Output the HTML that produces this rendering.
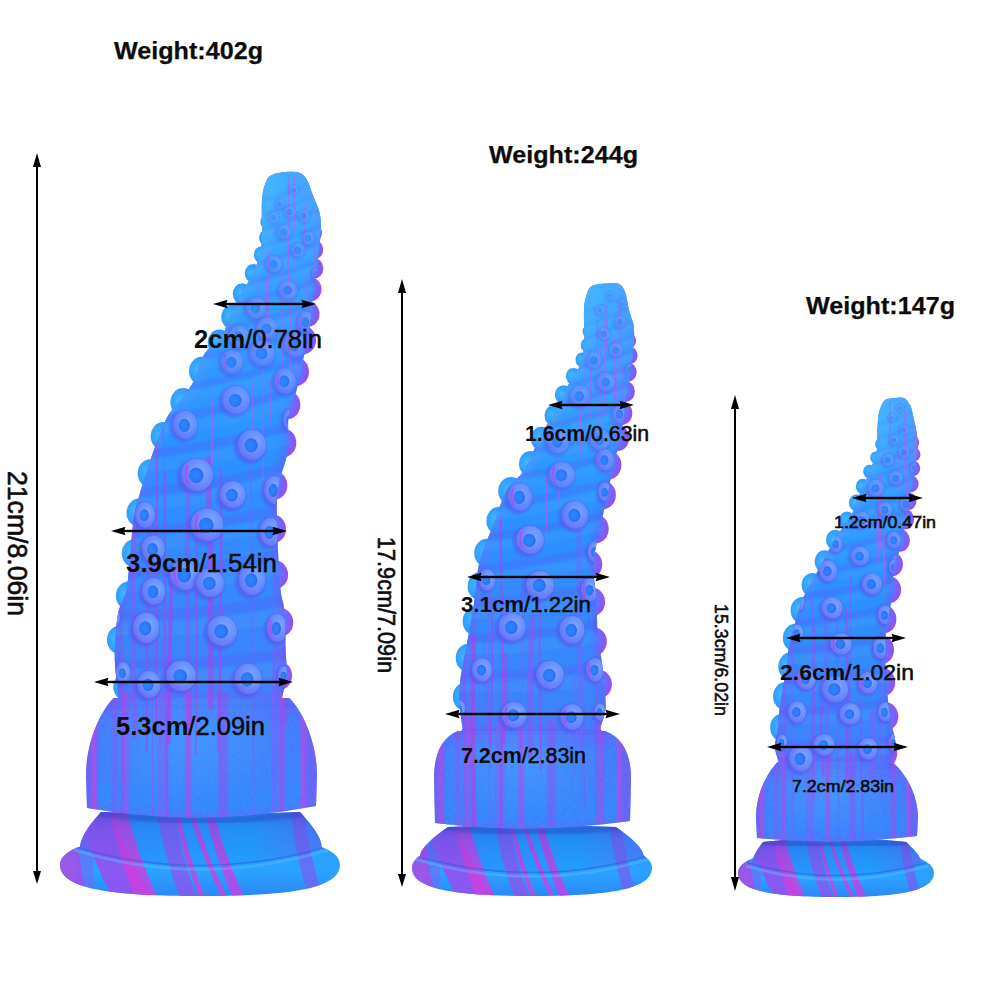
<!DOCTYPE html>
<html><head><meta charset="utf-8">
<style>
html,body{margin:0;padding:0;background:#fff;}
body{width:1000px;height:1000px;overflow:hidden;position:relative;}
svg{position:absolute;left:0;top:0;}
text{font-family:"Liberation Sans",sans-serif;fill:#0c0c0c;}
</style></head><body>
<svg width="1000" height="1000" viewBox="0 0 1000 1000">
<defs><linearGradient id="baseG" x1="0" y1="0" x2="1" y2="0">
 <stop offset="0" stop-color="#5a70f8"/><stop offset="0.25" stop-color="#2a96ff"/><stop offset="0.7" stop-color="#20a0ff"/><stop offset="1" stop-color="#4a80fa"/></linearGradient>
<linearGradient id="rimG" x1="0" y1="0" x2="0" y2="1">
 <stop offset="0" stop-color="#30a8ff"/><stop offset="0.6" stop-color="#2aa2ff"/><stop offset="1" stop-color="#2a88f8"/></linearGradient>
<radialGradient id="ringG" cx="0.6" cy="0.4" r="0.65">
 <stop offset="0" stop-color="#7aaaff"/><stop offset="0.5" stop-color="#6a90ff"/><stop offset="0.85" stop-color="#6a78f8"/><stop offset="1" stop-color="#5a62ee"/></radialGradient>
<radialGradient id="holeG" cx="0.45" cy="0.5" r="0.55">
 <stop offset="0" stop-color="#2a86ff"/><stop offset="0.6" stop-color="#2a7cf8"/><stop offset="1" stop-color="#3a5ee8"/></radialGradient>
<radialGradient id="bumpL" cx="0.4" cy="0.45" r="0.6">
 <stop offset="0" stop-color="#48b8ff"/><stop offset="0.6" stop-color="#30a0ff"/><stop offset="1" stop-color="#4a84fc"/></radialGradient>
<radialGradient id="bumpR" cx="0.4" cy="0.45" r="0.6">
 <stop offset="0" stop-color="#6a84ff"/><stop offset="0.6" stop-color="#6a6cfc"/><stop offset="1" stop-color="#9a4cf0"/></radialGradient>
<radialGradient id="domeHL" cx="0.5" cy="0.5" r="0.5">
 <stop offset="0" stop-color="#40b4ff" stop-opacity="0.45"/><stop offset="0.6" stop-color="#40b4ff" stop-opacity="0.2"/><stop offset="1" stop-color="#40b4ff" stop-opacity="0"/></radialGradient>
<filter id="blur3" x="-20%" y="-20%" width="140%" height="140%"><feGaussianBlur stdDeviation="3"/></filter>
<filter id="blur06" x="-20%" y="-20%" width="140%" height="140%"><feGaussianBlur stdDeviation="0.6"/></filter>
<filter id="blur1" x="-20%" y="-20%" width="140%" height="140%"><feGaussianBlur stdDeviation="1.2"/></filter>
<filter id="blur2" x="-20%" y="-20%" width="140%" height="140%"><feGaussianBlur stdDeviation="2"/></filter>
<filter id="speck" x="0" y="0" width="1" height="1">
 <feTurbulence type="fractalNoise" baseFrequency="0.35" numOctaves="2" seed="3" result="n"/>
 <feColorMatrix in="n" type="matrix" values="0 0 0 0 0.45  0 0 0 0 0.65  0 0 0 0 1  0 0 0 -3 1.6" result="c"/>
 <feComposite in="c" in2="SourceGraphic" operator="in"/>
</filter>
<clipPath id="clip0"><path d="M272.0,175.0 C268.7,176.7 267.7,177.8 266.0,182.0 C264.3,186.2 262.7,190.3 262.0,200.0 C261.3,209.7 262.5,230.0 261.9,240.0 C261.3,250.0 260.5,253.3 258.4,260.0 C256.3,266.7 252.9,273.3 249.4,280.0 C245.9,286.7 240.9,293.3 237.4,300.0 C233.9,306.7 231.1,313.7 228.4,320.0 C225.7,326.3 224.9,333.0 221.4,338.0 C217.9,343.0 210.9,346.0 207.4,350.0 C203.9,354.0 202.6,357.0 200.4,362.0 C198.2,367.0 197.4,374.0 194.4,380.0 C191.4,386.0 186.7,392.2 182.4,398.0 C178.1,403.8 172.4,408.3 168.4,415.0 C164.4,421.7 161.4,430.5 158.4,438.0 C155.4,445.5 153.1,452.2 150.4,460.0 C147.7,467.8 144.9,476.7 142.4,485.0 C139.9,493.3 137.1,502.5 135.4,510.0 C133.7,517.5 133.2,523.0 132.4,530.0 C131.6,537.0 131.4,542.0 130.4,552.0 C129.4,562.0 128.4,580.0 126.4,590.0 C124.4,600.0 120.2,603.7 118.4,612.0 C116.6,620.3 116.0,631.7 115.4,640.0 C114.8,648.3 114.5,653.7 114.9,662.0 C115.4,670.3 116.9,683.3 117.8,690.0 C118.8,696.7 119.8,698.0 120.5,702.0 C121.2,706.0 95.3,712.0 122.0,714.0 C148.7,716.0 254.3,716.7 281.0,714.0 C307.7,711.3 281.1,704.3 282.0,698.0 C283.0,691.7 286.0,684.0 286.6,676.0 C287.2,668.0 286.1,660.7 285.7,650.0 C285.4,639.3 285.5,622.0 284.6,612.0 C283.7,602.0 281.8,602.0 280.6,590.0 C279.4,578.0 278.1,556.7 277.6,540.0 C277.1,523.3 275.9,504.7 277.6,490.0 C279.3,475.3 285.8,464.5 287.6,452.0 C289.4,439.5 287.1,425.3 288.6,415.0 C290.1,404.7 294.3,398.8 296.6,390.0 C298.9,381.2 300.8,370.3 302.6,362.0 C304.4,353.7 306.1,348.7 307.6,340.0 C309.1,331.3 310.6,319.7 311.6,310.0 C312.6,300.3 312.6,290.3 313.6,282.0 C314.6,273.7 316.4,270.3 317.6,260.0 C318.8,249.7 321.8,231.2 320.8,220.0 C319.9,208.8 314.3,199.7 312.0,193.0 C309.7,186.3 309.0,183.3 307.0,180.0 C305.0,176.7 303.5,174.3 300.0,173.0 C296.5,171.7 290.7,171.7 286.0,172.0 C281.3,172.3 275.3,173.3 272.0,175.0 Z"/><path d="M113.6,698.0 C98.1,713.9 86.0,745.7 86.0,775.4 L87.0,808.0 Q201.5,828.0 316.0,806.0 L317.0,775.4 C317.0,745.7 304.9,713.9 289.4,698.0 Z"/></clipPath><clipPath id="dclip0"><path d="M113.6,698.0 C98.1,713.9 86.0,745.7 86.0,775.4 L87.0,808.0 Q201.5,828.0 316.0,806.0 L317.0,775.4 C317.0,745.7 304.9,713.9 289.4,698.0 Z"/></clipPath><linearGradient id="ug0" gradientUnits="userSpaceOnUse" x1="0" y1="171.0" x2="0" y2="457.7">
 <stop offset="0" stop-color="#48b8ff" stop-opacity="0.75"/><stop offset="0.4" stop-color="#40b0ff" stop-opacity="0.45"/><stop offset="1" stop-color="#40b0ff" stop-opacity="0"/></linearGradient><linearGradient id="fsh0" gradientUnits="userSpaceOnUse" x1="0" y1="808.0" x2="0" y2="867.0">
 <stop offset="0" stop-color="#2a40c0" stop-opacity="0.5"/><stop offset="0.35" stop-color="#2a50d0" stop-opacity="0.2"/><stop offset="1" stop-color="#2a50d0" stop-opacity="0"/></linearGradient><linearGradient id="lcg0" gradientUnits="userSpaceOnUse" x1="0" y1="171.0" x2="0" y2="702.0">
 <stop offset="0" stop-color="#50c4ff" stop-opacity="0.5"/><stop offset="0.5" stop-color="#40b0ff" stop-opacity="0.35"/><stop offset="0.8" stop-color="#7a5af4" stop-opacity="0.2"/><stop offset="1" stop-color="#7a5af4" stop-opacity="0.35"/></linearGradient><linearGradient id="lg0" gradientUnits="userSpaceOnUse" x1="0" y1="425.8" x2="0" y2="808.0">
 <stop offset="0" stop-color="#7a50f0" stop-opacity="0"/><stop offset="0.85" stop-color="#8050f0" stop-opacity="0.28"/><stop offset="1" stop-color="#8050f0" stop-opacity="0.1"/></linearGradient><clipPath id="bclip0"><path d="M101.0,812.0 Q200.0,816.0 300.0,812.0 C306.6,819.2 322.0,835.4 322.0,848.0 Q200.0,886.0 80.0,848.0 C80.0,835.4 94.7,819.2 101.0,812.0 Z"/><path d="M60.0,865.0 C60.0,889.8 116.0,896.0 200.0,896.0 C284.0,896.0 340.0,889.8 340.0,865.0 C340.0,843.3 284.0,834.0 200.0,834.0 C116.0,834.0 60.0,843.3 60.0,865.0 Z"/></clipPath><clipPath id="clip1"><path d="M592.0,286.0 C588.8,287.8 588.3,290.0 587.0,294.0 C585.7,298.0 584.4,302.3 584.0,310.0 C583.6,317.7 584.6,332.5 584.4,340.0 C584.2,347.5 584.1,350.0 582.9,355.0 C581.8,360.0 580.6,364.2 577.6,370.0 C574.7,375.8 568.9,383.3 565.4,390.0 C561.9,396.7 559.6,404.0 556.4,410.0 C553.2,416.0 549.4,421.0 546.4,426.0 C543.4,431.0 542.1,432.7 538.4,440.0 C534.7,447.3 529.4,462.2 524.4,470.0 C519.4,477.8 512.4,481.2 508.4,487.0 C504.4,492.8 502.9,498.7 500.4,505.0 C497.9,511.3 496.1,518.0 493.4,525.0 C490.7,532.0 486.9,540.0 484.4,547.0 C481.9,554.0 480.1,558.2 478.4,567.0 C476.7,575.8 475.7,590.3 474.4,600.0 C473.1,609.7 472.2,614.7 470.4,625.0 C468.6,635.3 465.1,652.8 463.4,662.0 C461.7,671.2 461.1,673.7 460.4,680.0 C459.7,686.3 458.9,692.0 459.2,700.0 C459.6,708.0 461.7,721.3 462.5,728.0 C463.3,734.7 441.3,738.0 464.0,740.0 C486.7,742.0 576.3,742.0 599.0,740.0 C621.7,738.0 599.4,733.5 600.5,728.0 C601.6,722.5 605.2,715.0 605.7,707.0 C606.2,699.0 604.3,687.8 603.6,680.0 C602.9,672.2 602.6,667.2 601.6,660.0 C600.6,652.8 598.4,647.0 597.6,637.0 C596.8,627.0 597.3,612.5 596.6,600.0 C595.9,587.5 592.4,576.7 593.6,562.0 C594.8,547.3 601.1,524.0 603.6,512.0 C606.1,500.0 606.9,498.3 608.6,490.0 C610.3,481.7 611.6,470.3 613.6,462.0 C615.6,453.7 618.6,450.3 620.6,440.0 C622.6,429.7 623.7,413.3 625.6,400.0 C627.5,386.7 630.6,371.7 632.0,360.0 C633.4,348.3 634.5,338.3 634.0,330.0 C633.5,321.7 630.5,316.3 629.0,310.0 C627.5,303.7 626.7,296.3 625.0,292.0 C623.3,287.7 622.2,285.4 619.0,284.0 C615.8,282.6 610.5,283.2 606.0,283.5 C601.5,283.8 595.2,284.2 592.0,286.0 Z"/><path d="M458.0,731.0 C438.8,738.6 434.0,759.5 434.0,778.5 L435.0,823.0 Q532.5,835.0 630.0,821.0 L631.0,778.5 C631.0,759.5 625.8,738.6 605.0,731.0 Z"/></clipPath><clipPath id="dclip1"><path d="M458.0,731.0 C438.8,738.6 434.0,759.5 434.0,778.5 L435.0,823.0 Q532.5,835.0 630.0,821.0 L631.0,778.5 C631.0,759.5 625.8,738.6 605.0,731.0 Z"/></clipPath><linearGradient id="ug1" gradientUnits="userSpaceOnUse" x1="0" y1="282.5" x2="0" y2="525.7">
 <stop offset="0" stop-color="#48b8ff" stop-opacity="0.75"/><stop offset="0.4" stop-color="#40b0ff" stop-opacity="0.45"/><stop offset="1" stop-color="#40b0ff" stop-opacity="0"/></linearGradient><linearGradient id="fsh1" gradientUnits="userSpaceOnUse" x1="0" y1="823.0" x2="0" y2="874.0">
 <stop offset="0" stop-color="#2a40c0" stop-opacity="0.5"/><stop offset="0.35" stop-color="#2a50d0" stop-opacity="0.2"/><stop offset="1" stop-color="#2a50d0" stop-opacity="0"/></linearGradient><linearGradient id="lcg1" gradientUnits="userSpaceOnUse" x1="0" y1="282.5" x2="0" y2="728.0">
 <stop offset="0" stop-color="#50c4ff" stop-opacity="0.5"/><stop offset="0.5" stop-color="#40b0ff" stop-opacity="0.35"/><stop offset="0.8" stop-color="#7a5af4" stop-opacity="0.2"/><stop offset="1" stop-color="#7a5af4" stop-opacity="0.35"/></linearGradient><linearGradient id="lg1" gradientUnits="userSpaceOnUse" x1="0" y1="498.7" x2="0" y2="823.0">
 <stop offset="0" stop-color="#7a50f0" stop-opacity="0"/><stop offset="0.85" stop-color="#8050f0" stop-opacity="0.28"/><stop offset="1" stop-color="#8050f0" stop-opacity="0.1"/></linearGradient><clipPath id="bclip1"><path d="M448.0,827.0 Q532.0,823.0 616.0,827.0 C624.4,833.0 644.0,846.5 644.0,857.0 Q532.0,891.0 420.0,857.0 C420.0,846.5 439.6,833.0 448.0,827.0 Z"/><path d="M412.0,868.0 C412.0,890.4 460.0,896.0 532.0,896.0 C604.0,896.0 652.0,890.4 652.0,868.0 C652.0,848.4 604.0,840.0 532.0,840.0 C460.0,840.0 412.0,848.4 412.0,868.0 Z"/></clipPath><clipPath id="clip2"><path d="M885.0,400.0 C882.5,401.8 881.2,405.7 880.0,409.0 C878.8,412.3 878.4,414.8 878.0,420.0 C877.6,425.2 877.5,435.0 877.4,440.0 C877.2,445.0 878.1,445.0 876.9,450.0 C875.7,455.0 873.0,463.3 870.4,470.0 C867.8,476.7 864.0,483.3 861.3,490.0 C858.5,496.7 856.7,504.2 853.9,510.0 C851.1,515.8 847.7,520.0 844.4,525.0 C841.1,530.0 837.4,535.0 834.4,540.0 C831.4,545.0 829.1,550.0 826.4,555.0 C823.7,560.0 821.9,563.7 818.4,570.0 C814.9,576.3 808.7,586.0 805.4,593.0 C802.1,600.0 800.6,605.3 798.4,612.0 C796.2,618.7 794.1,626.7 792.4,633.0 C790.7,639.3 789.4,643.8 788.4,650.0 C787.4,656.2 787.4,663.3 786.4,670.0 C785.4,676.7 783.6,683.3 782.4,690.0 C781.2,696.7 780.2,703.3 779.4,710.0 C778.6,716.7 778.4,723.8 777.7,730.0 C776.9,736.2 774.8,741.7 774.9,747.0 C775.1,752.3 777.7,757.5 778.5,762.0 C779.4,766.5 761.4,772.0 780.0,774.0 C798.6,776.0 871.4,776.0 890.0,774.0 C908.6,772.0 890.6,767.2 891.5,762.0 C892.4,756.8 895.7,751.0 895.4,743.0 C895.1,735.0 891.2,726.2 889.6,714.0 C888.0,701.8 886.3,682.8 885.6,670.0 C884.9,657.2 885.1,646.2 885.6,637.0 C886.1,627.8 887.4,622.3 888.6,615.0 C889.8,607.7 891.8,601.0 892.6,593.0 C893.4,585.0 892.4,574.2 893.6,567.0 C894.8,559.8 897.6,557.8 899.6,550.0 C901.6,542.2 903.7,530.0 905.6,520.0 C907.5,510.0 909.0,500.0 910.7,490.0 C912.5,480.0 914.9,468.3 916.1,460.0 C917.3,451.7 918.3,448.2 917.6,440.0 C917.0,431.8 913.3,416.8 912.0,411.0 C910.7,405.2 911.3,407.2 910.0,405.0 C908.7,402.8 906.5,399.2 904.0,398.0 C901.5,396.8 898.2,397.7 895.0,398.0 C891.8,398.3 887.5,398.2 885.0,400.0 Z"/><path d="M778.0,762.0 C765.7,773.4 756.0,796.2 756.0,817.5 L757.0,838.0 Q837.0,846.0 917.0,836.0 L918.0,817.5 C918.0,796.2 906.6,773.4 892.0,762.0 Z"/></clipPath><clipPath id="dclip2"><path d="M778.0,762.0 C765.7,773.4 756.0,796.2 756.0,817.5 L757.0,838.0 Q837.0,846.0 917.0,836.0 L918.0,817.5 C918.0,796.2 906.6,773.4 892.0,762.0 Z"/></clipPath><linearGradient id="ug2" gradientUnits="userSpaceOnUse" x1="0" y1="397.0" x2="0" y2="595.5">
 <stop offset="0" stop-color="#48b8ff" stop-opacity="0.75"/><stop offset="0.4" stop-color="#40b0ff" stop-opacity="0.45"/><stop offset="1" stop-color="#40b0ff" stop-opacity="0"/></linearGradient><linearGradient id="fsh2" gradientUnits="userSpaceOnUse" x1="0" y1="838.0" x2="0" y2="877.0">
 <stop offset="0" stop-color="#2a40c0" stop-opacity="0.5"/><stop offset="0.35" stop-color="#2a50d0" stop-opacity="0.2"/><stop offset="1" stop-color="#2a50d0" stop-opacity="0"/></linearGradient><linearGradient id="lcg2" gradientUnits="userSpaceOnUse" x1="0" y1="397.0" x2="0" y2="762.0">
 <stop offset="0" stop-color="#50c4ff" stop-opacity="0.5"/><stop offset="0.5" stop-color="#40b0ff" stop-opacity="0.35"/><stop offset="0.8" stop-color="#7a5af4" stop-opacity="0.2"/><stop offset="1" stop-color="#7a5af4" stop-opacity="0.35"/></linearGradient><linearGradient id="lg2" gradientUnits="userSpaceOnUse" x1="0" y1="573.4" x2="0" y2="838.0">
 <stop offset="0" stop-color="#7a50f0" stop-opacity="0"/><stop offset="0.85" stop-color="#8050f0" stop-opacity="0.28"/><stop offset="1" stop-color="#8050f0" stop-opacity="0.1"/></linearGradient><clipPath id="bclip2"><path d="M763.0,842.0 Q836.0,834.0 906.0,842.0 C910.8,846.4 922.0,856.3 922.0,864.0 Q836.0,890.0 752.0,864.0 C752.0,856.3 759.7,846.4 763.0,842.0 Z"/><path d="M738.0,873.0 C738.0,892.2 777.2,897.0 836.0,897.0 C894.8,897.0 934.0,892.2 934.0,873.0 C934.0,856.2 894.8,849.0 836.0,849.0 C777.2,849.0 738.0,856.2 738.0,873.0 Z"/></clipPath></defs>
<g>
<path d="M60.0,865.0 C60.0,889.8 116.0,896.0 200.0,896.0 C284.0,896.0 340.0,889.8 340.0,865.0 C340.0,843.3 284.0,834.0 200.0,834.0 C116.0,834.0 60.0,843.3 60.0,865.0 Z" fill="url(#rimG)"/>
<path d="M101.0,812.0 Q200.0,816.0 300.0,812.0 C306.6,819.2 322.0,835.4 322.0,848.0 Q200.0,886.0 80.0,848.0 C80.0,835.4 94.7,819.2 101.0,812.0 Z" fill="url(#baseG)"/>
<g clip-path="url(#bclip0)">
<g filter="url(#blur06)">
<path d="M74.0,802.0 L107.6,802.0 Q124.4,850.5 152.4,899.0 L113.2,899.0 Q88.0,850.5 74.0,802.0 Z" fill="#9a4cf0" opacity="0.85"/>
<path d="M107.6,802.0 L124.4,802.0 Q135.6,850.5 158.0,899.0 L135.6,899.0 Q116.0,850.5 107.6,802.0 Z" fill="#d040e0" opacity="0.80"/>
<path d="M54.4,802.0 L74.0,802.0 Q75.4,850.5 88.0,899.0 L65.6,899.0 Q54.4,850.5 54.4,802.0 Z" fill="#c040e0" opacity="0.75"/>
<path d="M155.2,802.0 L172.0,802.0 Q179.0,850.5 197.2,899.0 L180.4,899.0 Q162.2,850.5 155.2,802.0 Z" fill="#a048ec" opacity="0.65"/>
<path d="M172.0,802.0 L177.6,802.0 Q186.0,850.5 205.6,899.0 L200.0,899.0 Q180.4,850.5 172.0,802.0 Z" fill="#d040e0" opacity="0.80"/>
<path d="M186.0,802.0 L191.6,802.0 Q204.2,850.5 228.0,899.0 L222.4,899.0 Q198.6,850.5 186.0,802.0 Z" fill="#d040e0" opacity="0.80"/>
<path d="M202.8,802.0 L211.2,802.0 Q222.4,850.5 244.8,899.0 L233.6,899.0 Q212.6,850.5 202.8,802.0 Z" fill="#c840e4" opacity="0.80"/>
<path d="M289.6,802.0 L303.6,802.0 Q307.8,850.5 323.2,899.0 L309.2,899.0 Q293.8,850.5 289.6,802.0 Z" fill="#8a50f0" opacity="0.60"/>
<path d="M88.0,802.0 L99.2,802.0 Q90.8,850.5 93.6,899.0 L74.0,899.0 Q75.4,850.5 88.0,802.0 Z" fill="#8a58f4" opacity="0.45"/>
</g>
<rect x="60.0" y="803.0" width="280.0" height="64.0" fill="url(#fsh0)"/>
<path d="M74.0,850.0 Q200.0,889.0 328.0,850.0" fill="none" stroke="#5cbcff" stroke-width="2.5" opacity="0.45"/>
<path d="M76.0,847.0 Q200.0,884.0 326.0,847.0" fill="none" stroke="#2a5ed6" stroke-width="1.5" opacity="0.55"/>
<path d="M86.0,811.0 Q201.5,831.0 317.0,811.0" fill="none" stroke="#2840b8" stroke-width="6" opacity="0.35" filter="url(#blur1)"/>
</g>
<ellipse cx="266.9" cy="222.0" rx="6.6" ry="7.3" fill="url(#bumpL)"/>
<ellipse cx="266.2" cy="237.9" rx="7.1" ry="7.9" fill="url(#bumpL)"/>
<ellipse cx="261.3" cy="254.8" rx="7.5" ry="8.4" fill="url(#bumpL)"/>
<ellipse cx="314.5" cy="233.0" rx="7.5" ry="8.4" fill="url(#bumpR)"/>
<ellipse cx="253.1" cy="273.3" rx="8.3" ry="9.3" fill="url(#bumpL)"/>
<ellipse cx="314.9" cy="249.7" rx="8.3" ry="9.3" fill="url(#bumpR)"/>
<ellipse cx="242.1" cy="293.8" rx="9.4" ry="10.5" fill="url(#bumpL)"/>
<ellipse cx="313.9" cy="268.4" rx="9.4" ry="10.5" fill="url(#bumpR)"/>
<ellipse cx="232.0" cy="317.0" rx="10.7" ry="11.9" fill="url(#bumpL)"/>
<ellipse cx="310.8" cy="289.3" rx="10.7" ry="11.9" fill="url(#bumpR)"/>
<ellipse cx="219.3" cy="342.5" rx="11.6" ry="12.9" fill="url(#bumpL)"/>
<ellipse cx="307.9" cy="314.0" rx="11.6" ry="12.9" fill="url(#bumpR)"/>
<ellipse cx="201.8" cy="371.0" rx="12.8" ry="14.2" fill="url(#bumpL)"/>
<ellipse cx="303.3" cy="340.0" rx="12.8" ry="14.2" fill="url(#bumpR)"/>
<ellipse cx="183.2" cy="402.3" rx="12.8" ry="14.2" fill="url(#bumpL)"/>
<ellipse cx="296.2" cy="371.7" rx="12.8" ry="14.2" fill="url(#bumpR)"/>
<ellipse cx="163.5" cy="436.2" rx="12.8" ry="14.2" fill="url(#bumpL)"/>
<ellipse cx="287.5" cy="404.9" rx="12.8" ry="14.2" fill="url(#bumpR)"/>
<ellipse cx="150.5" cy="473.4" rx="12.8" ry="14.2" fill="url(#bumpL)"/>
<ellipse cx="283.5" cy="442.9" rx="12.8" ry="14.2" fill="url(#bumpR)"/>
<ellipse cx="139.3" cy="512.8" rx="12.8" ry="14.2" fill="url(#bumpL)"/>
<ellipse cx="274.5" cy="485.4" rx="12.8" ry="14.2" fill="url(#bumpR)"/>
<ellipse cx="134.6" cy="553.4" rx="12.8" ry="14.2" fill="url(#bumpL)"/>
<ellipse cx="273.2" cy="529.0" rx="12.8" ry="14.2" fill="url(#bumpR)"/>
<ellipse cx="128.7" cy="595.7" rx="12.8" ry="14.2" fill="url(#bumpL)"/>
<ellipse cx="275.3" cy="574.8" rx="12.8" ry="14.2" fill="url(#bumpR)"/>
<ellipse cx="119.8" cy="639.9" rx="12.8" ry="14.2" fill="url(#bumpL)"/>
<ellipse cx="280.5" cy="622.5" rx="12.8" ry="14.2" fill="url(#bumpR)"/>
<ellipse cx="126.1" cy="686.8" rx="12.8" ry="14.2" fill="url(#bumpL)"/>
<ellipse cx="279.3" cy="675.6" rx="12.8" ry="14.2" fill="url(#bumpR)"/>
<path d="M113.6,698.0 C98.1,713.9 86.0,745.7 86.0,775.4 L87.0,808.0 Q201.5,828.0 316.0,806.0 L317.0,775.4 C317.0,745.7 304.9,713.9 289.4,698.0 Z" fill="#2a90ff"/>
<path d="M272.0,175.0 C268.7,176.7 267.7,177.8 266.0,182.0 C264.3,186.2 262.7,190.3 262.0,200.0 C261.3,209.7 262.5,230.0 261.9,240.0 C261.3,250.0 260.5,253.3 258.4,260.0 C256.3,266.7 252.9,273.3 249.4,280.0 C245.9,286.7 240.9,293.3 237.4,300.0 C233.9,306.7 231.1,313.7 228.4,320.0 C225.7,326.3 224.9,333.0 221.4,338.0 C217.9,343.0 210.9,346.0 207.4,350.0 C203.9,354.0 202.6,357.0 200.4,362.0 C198.2,367.0 197.4,374.0 194.4,380.0 C191.4,386.0 186.7,392.2 182.4,398.0 C178.1,403.8 172.4,408.3 168.4,415.0 C164.4,421.7 161.4,430.5 158.4,438.0 C155.4,445.5 153.1,452.2 150.4,460.0 C147.7,467.8 144.9,476.7 142.4,485.0 C139.9,493.3 137.1,502.5 135.4,510.0 C133.7,517.5 133.2,523.0 132.4,530.0 C131.6,537.0 131.4,542.0 130.4,552.0 C129.4,562.0 128.4,580.0 126.4,590.0 C124.4,600.0 120.2,603.7 118.4,612.0 C116.6,620.3 116.0,631.7 115.4,640.0 C114.8,648.3 114.5,653.7 114.9,662.0 C115.4,670.3 116.9,683.3 117.8,690.0 C118.8,696.7 119.8,698.0 120.5,702.0 C121.2,706.0 95.3,712.0 122.0,714.0 C148.7,716.0 254.3,716.7 281.0,714.0 C307.7,711.3 281.1,704.3 282.0,698.0 C283.0,691.7 286.0,684.0 286.6,676.0 C287.2,668.0 286.1,660.7 285.7,650.0 C285.4,639.3 285.5,622.0 284.6,612.0 C283.7,602.0 281.8,602.0 280.6,590.0 C279.4,578.0 278.1,556.7 277.6,540.0 C277.1,523.3 275.9,504.7 277.6,490.0 C279.3,475.3 285.8,464.5 287.6,452.0 C289.4,439.5 287.1,425.3 288.6,415.0 C290.1,404.7 294.3,398.8 296.6,390.0 C298.9,381.2 300.8,370.3 302.6,362.0 C304.4,353.7 306.1,348.7 307.6,340.0 C309.1,331.3 310.6,319.7 311.6,310.0 C312.6,300.3 312.6,290.3 313.6,282.0 C314.6,273.7 316.4,270.3 317.6,260.0 C318.8,249.7 321.8,231.2 320.8,220.0 C319.9,208.8 314.3,199.7 312.0,193.0 C309.7,186.3 309.0,183.3 307.0,180.0 C305.0,176.7 303.5,174.3 300.0,173.0 C296.5,171.7 290.7,171.7 286.0,172.0 C281.3,172.3 275.3,173.3 272.0,175.0 Z" fill="#2a92ff"/>
<g clip-path="url(#clip0)">
<path d="M272.0,175.0 C268.7,176.7 267.7,177.8 266.0,182.0 C264.3,186.2 262.7,190.3 262.0,200.0 C261.3,209.7 262.5,230.0 261.9,240.0 C261.3,250.0 260.5,253.3 258.4,260.0 C256.3,266.7 252.9,273.3 249.4,280.0 C245.9,286.7 240.9,293.3 237.4,300.0 C233.9,306.7 231.1,313.7 228.4,320.0 C225.7,326.3 224.9,333.0 221.4,338.0 C217.9,343.0 210.9,346.0 207.4,350.0 C203.9,354.0 202.6,357.0 200.4,362.0 C198.2,367.0 197.4,374.0 194.4,380.0 C191.4,386.0 186.7,392.2 182.4,398.0 C178.1,403.8 172.4,408.3 168.4,415.0 C164.4,421.7 161.4,430.5 158.4,438.0 C155.4,445.5 153.1,452.2 150.4,460.0 C147.7,467.8 144.9,476.7 142.4,485.0 C139.9,493.3 137.1,502.5 135.4,510.0 C133.7,517.5 133.2,523.0 132.4,530.0 C131.6,537.0 131.4,542.0 130.4,552.0 C129.4,562.0 128.4,580.0 126.4,590.0 C124.4,600.0 120.2,603.7 118.4,612.0 C116.6,620.3 116.0,631.7 115.4,640.0 C114.8,648.3 114.5,653.7 114.9,662.0 C115.4,670.3 116.9,683.3 117.8,690.0 C118.8,696.7 119.8,698.0 120.5,702.0 C121.2,706.0 95.3,712.0 122.0,714.0 C148.7,716.0 254.3,716.7 281.0,714.0 C307.7,711.3 281.1,704.3 282.0,698.0 C283.0,691.7 286.0,684.0 286.6,676.0 C287.2,668.0 286.1,660.7 285.7,650.0 C285.4,639.3 285.5,622.0 284.6,612.0 C283.7,602.0 281.8,602.0 280.6,590.0 C279.4,578.0 278.1,556.7 277.6,540.0 C277.1,523.3 275.9,504.7 277.6,490.0 C279.3,475.3 285.8,464.5 287.6,452.0 C289.4,439.5 287.1,425.3 288.6,415.0 C290.1,404.7 294.3,398.8 296.6,390.0 C298.9,381.2 300.8,370.3 302.6,362.0 C304.4,353.7 306.1,348.7 307.6,340.0 C309.1,331.3 310.6,319.7 311.6,310.0 C312.6,300.3 312.6,290.3 313.6,282.0 C314.6,273.7 316.4,270.3 317.6,260.0 C318.8,249.7 321.8,231.2 320.8,220.0 C319.9,208.8 314.3,199.7 312.0,193.0 C309.7,186.3 309.0,183.3 307.0,180.0 C305.0,176.7 303.5,174.3 300.0,173.0 C296.5,171.7 290.7,171.7 286.0,172.0 C281.3,172.3 275.3,173.3 272.0,175.0 Z" fill="none" stroke="#6a5cff" stroke-width="10" opacity="0.35" filter="url(#blur3)"/>
<path d="M275.0,175.0 L269.0,182.0 L265.0,200.0 L262.0,240.0 L255.0,260.0 L244.0,280.0 L232.0,300.0 L223.0,320.0 L216.0,338.0 L202.0,350.0 L195.0,362.0 L189.0,380.0 L177.0,398.0 L163.0,415.0 L153.0,438.0 L145.0,460.0 L137.0,485.0 L130.0,510.0 L127.0,530.0 L125.0,552.0 L121.0,590.0 L113.0,612.0 L110.0,640.0 L111.0,662.0 L117.0,690.0 L121.0,702.0" fill="none" stroke="url(#lcg0)" stroke-width="22" filter="url(#blur3)"/>
<path d="M297.0,173.0 L304.0,180.0 L309.0,193.0 L318.0,220.0 L321.0,260.0 L319.0,282.0 L317.0,310.0 L313.0,340.0 L308.0,362.0 L302.0,390.0 L294.0,415.0 L293.0,452.0 L283.0,490.0 L283.0,540.0 L286.0,590.0 L290.0,612.0 L291.0,650.0 L289.0,676.0 L282.0,698.0" fill="none" stroke="#7a54f4" stroke-width="18" opacity="0.25" filter="url(#blur3)"/>
<path d="M113.6,698.0 C98.1,713.9 86.0,745.7 86.0,775.4 L87.0,808.0 Q201.5,828.0 316.0,806.0 L317.0,775.4 C317.0,745.7 304.9,713.9 289.4,698.0 Z" fill="none" stroke="#7a58f8" stroke-width="12" opacity="0.3" filter="url(#blur3)"/>
<rect x="0" y="0" width="1000" height="1000" fill="url(#ug0)"/>
<rect x="0" y="0" width="1000" height="1000" fill="url(#lg0)"/>
<rect x="86" y="702" width="231" height="120" fill="#000" filter="url(#speck)" clip-path="url(#dclip0)" opacity="0.08"/>
<path d="M86.0,704.0 Q201.5,712.0 317.0,704.0" fill="none" stroke="#5a50f0" stroke-width="4" opacity="0.25" filter="url(#blur2)"/>
<path d="M256.0,202.6 Q287.6,194.1 319.3,179.6" fill="none" stroke="#5a5af8" stroke-width="2.8" opacity="0.11" filter="url(#blur1)"/>
<path d="M256.0,206.7 Q287.6,198.3 319.3,183.7" fill="none" stroke="#5cb0ff" stroke-width="4.1" opacity="0.16" filter="url(#blur1)"/>
<path d="M253.7,216.5 Q288.7,207.5 323.7,191.7" fill="none" stroke="#5a5af8" stroke-width="3.1" opacity="0.12" filter="url(#blur1)"/>
<path d="M253.7,221.2 Q288.7,212.1 323.7,196.3" fill="none" stroke="#5cb0ff" stroke-width="4.6" opacity="0.16" filter="url(#blur1)"/>
<path d="M252.6,232.1 Q290.6,222.6 328.6,205.8" fill="none" stroke="#5a5af8" stroke-width="3.3" opacity="0.14" filter="url(#blur1)"/>
<path d="M252.6,237.1 Q290.6,227.6 328.6,210.8" fill="none" stroke="#5cb0ff" stroke-width="5.0" opacity="0.16" filter="url(#blur1)"/>
<path d="M251.4,248.3 Q290.8,239.0 330.1,221.9" fill="none" stroke="#5a5af8" stroke-width="3.5" opacity="0.15" filter="url(#blur1)"/>
<path d="M251.4,253.6 Q290.8,244.2 330.1,227.2" fill="none" stroke="#5cb0ff" stroke-width="5.3" opacity="0.16" filter="url(#blur1)"/>
<path d="M246.9,265.3 Q289.1,256.0 331.4,238.0" fill="none" stroke="#5a5af8" stroke-width="3.9" opacity="0.17" filter="url(#blur1)"/>
<path d="M246.9,271.2 Q289.1,261.9 331.4,243.9" fill="none" stroke="#5cb0ff" stroke-width="5.9" opacity="0.16" filter="url(#blur1)"/>
<path d="M238.5,284.5 Q284.8,274.9 331.1,255.6" fill="none" stroke="#5a5af8" stroke-width="4.4" opacity="0.19" filter="url(#blur1)"/>
<path d="M238.5,291.1 Q284.8,281.6 331.1,262.3" fill="none" stroke="#5cb0ff" stroke-width="6.6" opacity="0.16" filter="url(#blur1)"/>
<path d="M226.6,305.9 Q278.0,296.2 329.4,275.3" fill="none" stroke="#5a5af8" stroke-width="5.0" opacity="0.21" filter="url(#blur1)"/>
<path d="M226.6,313.5 Q278.0,303.7 329.4,282.9" fill="none" stroke="#5cb0ff" stroke-width="7.5" opacity="0.16" filter="url(#blur1)"/>
<path d="M214.4,330.6 Q270.9,320.6 327.4,298.7" fill="none" stroke="#5a5af8" stroke-width="5.4" opacity="0.23" filter="url(#blur1)"/>
<path d="M214.4,338.8 Q270.9,328.8 327.4,306.9" fill="none" stroke="#5cb0ff" stroke-width="8.2" opacity="0.16" filter="url(#blur1)"/>
<path d="M203.0,355.8 Q263.5,346.7 324.0,323.7" fill="none" stroke="#5a5af8" stroke-width="6.3" opacity="0.26" filter="url(#blur1)"/>
<path d="M203.0,365.2 Q263.5,356.1 324.0,333.1" fill="none" stroke="#5cb0ff" stroke-width="9.5" opacity="0.16" filter="url(#blur1)"/>
<path d="M181.3,386.9 Q249.3,377.6 317.2,353.5" fill="none" stroke="#5a5af8" stroke-width="6.7" opacity="0.29" filter="url(#blur1)"/>
<path d="M181.3,397.0 Q249.3,387.7 317.2,363.6" fill="none" stroke="#5cb0ff" stroke-width="10.1" opacity="0.16" filter="url(#blur1)"/>
<path d="M162.9,418.2 Q236.1,410.0 309.2,385.3" fill="none" stroke="#5a5af8" stroke-width="7.5" opacity="0.30" filter="url(#blur1)"/>
<path d="M162.9,429.5 Q236.1,421.3 309.2,396.6" fill="none" stroke="#5cb0ff" stroke-width="11.3" opacity="0.16" filter="url(#blur1)"/>
<path d="M142.1,454.0 Q223.3,446.7 304.4,421.3" fill="none" stroke="#5a5af8" stroke-width="8.2" opacity="0.30" filter="url(#blur1)"/>
<path d="M142.1,466.3 Q223.3,459.0 304.4,433.6" fill="none" stroke="#5cb0ff" stroke-width="12.3" opacity="0.16" filter="url(#blur1)"/>
<path d="M128.2,492.9 Q212.7,487.3 297.1,463.2" fill="none" stroke="#5a5af8" stroke-width="8.4" opacity="0.30" filter="url(#blur1)"/>
<path d="M128.2,505.6 Q212.7,499.9 297.1,475.8" fill="none" stroke="#5cb0ff" stroke-width="12.6" opacity="0.16" filter="url(#blur1)"/>
<path d="M117.6,532.4 Q205.8,528.9 294.0,506.0" fill="none" stroke="#5a5af8" stroke-width="8.8" opacity="0.30" filter="url(#blur1)"/>
<path d="M117.6,545.6 Q205.8,542.1 294.0,519.2" fill="none" stroke="#5cb0ff" stroke-width="13.2" opacity="0.16" filter="url(#blur1)"/>
<path d="M112.9,573.4 Q204.1,572.4 295.3,551.1" fill="none" stroke="#5a5af8" stroke-width="9.2" opacity="0.30" filter="url(#blur1)"/>
<path d="M112.9,587.2 Q204.1,586.2 295.3,564.9" fill="none" stroke="#5cb0ff" stroke-width="13.8" opacity="0.16" filter="url(#blur1)"/>
<path d="M104.1,615.4 Q202.0,617.2 299.9,597.0" fill="none" stroke="#5a5af8" stroke-width="10.0" opacity="0.30" filter="url(#blur1)"/>
<path d="M104.1,630.4 Q202.0,632.2 299.9,612.0" fill="none" stroke="#5cb0ff" stroke-width="15.0" opacity="0.16" filter="url(#blur1)"/>
<path d="M99.8,663.5 Q200.6,667.7 301.5,650.8" fill="none" stroke="#5a5af8" stroke-width="9.6" opacity="0.30" filter="url(#blur1)"/>
<path d="M99.8,677.9 Q200.6,682.2 301.5,665.2" fill="none" stroke="#5cb0ff" stroke-width="14.4" opacity="0.16" filter="url(#blur1)"/>
<ellipse cx="189.9" cy="739.1" rx="97.0" ry="63.6" fill="url(#domeHL)" clip-path="url(#dclip0)"/>
<g filter="url(#blur1)">
<rect x="86.0" y="692.0" width="11.6" height="132.0" fill="#8a50f0" opacity="0.50"/>
<rect x="91.8" y="692.0" width="4.6" height="132.0" fill="#d040e0" opacity="0.60"/>
<rect x="111.4" y="692.0" width="5.8" height="132.0" fill="#8a58f4" opacity="0.50"/>
<rect x="121.8" y="692.0" width="6.9" height="132.0" fill="#b048ec" opacity="0.55"/>
<rect x="157.6" y="692.0" width="11.6" height="132.0" fill="#8a5af4" opacity="0.45"/>
<rect x="185.3" y="692.0" width="5.8" height="132.0" fill="#c040e4" opacity="0.60"/>
<rect x="218.8" y="692.0" width="9.2" height="132.0" fill="#8a54f4" opacity="0.55"/>
<rect x="278.9" y="692.0" width="5.8" height="132.0" fill="#c040e4" opacity="0.55"/>
<rect x="303.1" y="692.0" width="13.9" height="132.0" fill="#8a50f0" opacity="0.45"/>
<rect x="300.8" y="692.0" width="4.6" height="132.0" fill="#d040e0" opacity="0.60"/>
</g>
<path d="M195.8,522.9 Q198.2,639.2 195.6,755.6" fill="none" stroke="#c038e4" stroke-width="1.9" opacity="0.53"/>
<path d="M208.0,456.4 Q211.8,583.3 210.8,710.2" fill="none" stroke="#b040e8" stroke-width="5.7" opacity="0.55"/>
<path d="M120.5,563.6 Q123.5,692.8 121.1,822.0" fill="none" stroke="#c038e4" stroke-width="1.1" opacity="0.58"/>
<path d="M157.0,491.4 Q156.7,602.4 155.7,713.3" fill="none" stroke="#8a54f4" stroke-width="1.0" opacity="0.65"/>
<path d="M170.7,658.4 Q171.2,700.7 168.3,743.1" fill="none" stroke="#8a54f4" stroke-width="1.4" opacity="0.38"/>
<path d="M120.8,482.6 Q120.6,652.3 123.7,822.0" fill="none" stroke="#8a54f4" stroke-width="1.3" opacity="0.47"/>
<path d="M163.1,428.2 Q165.1,587.7 160.8,747.2" fill="none" stroke="#7a60ff" stroke-width="1.5" opacity="0.42"/>
<path d="M251.1,435.2 Q251.2,628.6 254.0,822.0" fill="none" stroke="#7a60ff" stroke-width="1.8" opacity="0.58"/>
<path d="M283.3,514.6 Q281.8,619.7 285.6,724.9" fill="none" stroke="#b040e8" stroke-width="2.3" opacity="0.41"/>
<path d="M134.8,508.3 Q130.8,623.8 135.4,739.2" fill="none" stroke="#8a58f4" stroke-width="4.2" opacity="0.60"/>
<path d="M152.9,506.3 Q151.8,664.2 152.6,822.0" fill="none" stroke="#8a58f4" stroke-width="1.0" opacity="0.64"/>
<path d="M148.5,530.7 Q146.5,641.5 146.7,752.3" fill="none" stroke="#b040e8" stroke-width="2.4" opacity="0.57"/>
<path d="M276.7,644.6 Q273.1,733.3 274.3,822.0" fill="none" stroke="#7a60ff" stroke-width="5.6" opacity="0.50"/>
<path d="M188.3,473.6 Q185.7,599.2 189.6,724.7" fill="none" stroke="#b040e8" stroke-width="5.2" opacity="0.37"/>
<path d="M220.6,467.0 Q222.6,609.2 218.0,751.4" fill="none" stroke="#c038e4" stroke-width="2.4" opacity="0.47"/>
<path d="M165.1,472.1 Q164.0,647.1 167.4,822.0" fill="none" stroke="#8a54f4" stroke-width="2.5" opacity="0.64"/>
<path d="M141.4,573.9 Q143.0,654.9 144.2,735.9" fill="none" stroke="#8a58f4" stroke-width="1.0" opacity="0.36"/>
<path d="M171.3,568.7 Q170.2,656.5 168.5,744.4" fill="none" stroke="#b040e8" stroke-width="3.8" opacity="0.63"/>
<path d="M278.9,593.9 Q282.1,708.0 281.1,822.0" fill="none" stroke="#7a60ff" stroke-width="1.1" opacity="0.48"/>
<path d="M222.4,607.2 Q218.9,671.2 219.9,735.2" fill="none" stroke="#b040e8" stroke-width="1.9" opacity="0.38"/>
<path d="M274.0,474.1 Q276.7,597.6 271.5,721.1" fill="none" stroke="#7a60ff" stroke-width="1.7" opacity="0.58"/>
<path d="M156.4,417.4 Q157.7,573.6 156.4,729.9" fill="none" stroke="#b040e8" stroke-width="1.7" opacity="0.62"/>
<path d="M220.2,501.8 Q221.4,661.9 219.8,822.0" fill="none" stroke="#8a58f4" stroke-width="2.1" opacity="0.62"/>
<rect x="268.2" y="249.1" width="1.3" height="102.6" fill="#c058f0" opacity="0.6"/>
<rect x="306.4" y="274.0" width="1.3" height="115.2" fill="#c058f0" opacity="0.6"/>
<rect x="252.2" y="381.3" width="1.3" height="77.2" fill="#c058f0" opacity="0.6"/>
<rect x="293.1" y="246.6" width="1.3" height="54.8" fill="#c058f0" opacity="0.6"/>
<rect x="262.5" y="371.0" width="1.3" height="119.1" fill="#c058f0" opacity="0.6"/>
<rect x="211.7" y="398.0" width="1.3" height="67.5" fill="#c058f0" opacity="0.6"/>
<rect x="265.7" y="278.7" width="1.3" height="67.3" fill="#c058f0" opacity="0.6"/>
<rect x="281.4" y="269.9" width="1.3" height="99.0" fill="#c058f0" opacity="0.6"/>
<rect x="314.5" y="246.4" width="1.3" height="118.2" fill="#c058f0" opacity="0.6"/>
<rect x="257.2" y="279.1" width="1.3" height="49.2" fill="#c058f0" opacity="0.6"/>
<rect x="269.6" y="379.6" width="1.3" height="46.2" fill="#c058f0" opacity="0.6"/>
<rect x="295.4" y="307.3" width="1.3" height="70.4" fill="#c058f0" opacity="0.6"/>
<rect x="293.7" y="175.6" width="1.3" height="54.7" fill="#c058f0" opacity="0.6"/>
<rect x="287.9" y="176.9" width="1.3" height="117.4" fill="#c058f0" opacity="0.6"/>
<rect x="303.6" y="204.7" width="1.3" height="46.7" fill="#c058f0" opacity="0.6"/>
<rect x="290.1" y="277.7" width="1.3" height="99.3" fill="#c058f0" opacity="0.6"/>
<g opacity="0.35">
<ellipse cx="293.3" cy="190.7" rx="6.0" ry="6.0" fill="#5a50f0" opacity="0.5" filter="url(#blur1)"/>
<ellipse cx="294.0" cy="190.0" rx="5.4" ry="5.6" fill="url(#ringG)" stroke="#3a66e0" stroke-width="0.8" stroke-opacity="0.5"/>
<ellipse cx="293.7" cy="190.1" rx="2.4" ry="2.5" fill="url(#holeG)"/>
</g>
<g opacity="0.38">
<ellipse cx="279.3" cy="204.7" rx="5.9" ry="6.0" fill="#5a50f0" opacity="0.5" filter="url(#blur1)"/>
<ellipse cx="280.0" cy="204.0" rx="5.4" ry="5.6" fill="url(#ringG)" stroke="#3a66e0" stroke-width="0.8" stroke-opacity="0.5"/>
<ellipse cx="279.7" cy="204.1" rx="2.4" ry="2.5" fill="url(#holeG)"/>
</g>
<g opacity="0.41">
<ellipse cx="303.2" cy="216.8" rx="6.8" ry="7.3" fill="#5a50f0" opacity="0.5" filter="url(#blur1)"/>
<ellipse cx="304.0" cy="216.0" rx="6.2" ry="6.7" fill="url(#ringG)" stroke="#3a66e0" stroke-width="0.8" stroke-opacity="0.5"/>
<ellipse cx="303.7" cy="216.1" rx="2.7" ry="3.0" fill="url(#holeG)"/>
</g>
<g opacity="0.44">
<ellipse cx="283.1" cy="232.9" rx="8.5" ry="8.5" fill="#5a50f0" opacity="0.5" filter="url(#blur1)"/>
<ellipse cx="284.0" cy="232.0" rx="7.7" ry="7.8" fill="url(#ringG)" stroke="#3a66e0" stroke-width="0.8" stroke-opacity="0.5"/>
<ellipse cx="283.6" cy="232.2" rx="3.4" ry="3.5" fill="url(#holeG)"/>
<path d="M279.8,227.3 q-1.9,4.7 0.4,9.0" stroke="#c040ec" stroke-width="1.3" fill="none" opacity="0.7"/>
</g>
<g opacity="0.49">
<ellipse cx="297.1" cy="250.9" rx="8.4" ry="8.5" fill="#5a50f0" opacity="0.5" filter="url(#blur1)"/>
<ellipse cx="298.0" cy="250.0" rx="7.7" ry="7.8" fill="url(#ringG)" stroke="#3a66e0" stroke-width="0.8" stroke-opacity="0.5"/>
<ellipse cx="297.6" cy="250.2" rx="3.4" ry="3.5" fill="url(#holeG)"/>
</g>
<g opacity="0.52">
<ellipse cx="272.9" cy="265.1" rx="9.4" ry="9.7" fill="#5a50f0" opacity="0.5" filter="url(#blur1)"/>
<ellipse cx="274.0" cy="264.0" rx="8.6" ry="9.0" fill="url(#ringG)" stroke="#3a66e0" stroke-width="0.8" stroke-opacity="0.5"/>
<ellipse cx="273.6" cy="264.2" rx="3.8" ry="4.0" fill="url(#holeG)"/>
<path d="M269.3,258.6 q-2.1,5.4 0.4,10.3" stroke="#c040ec" stroke-width="1.4" fill="none" opacity="0.7"/>
</g>
<g opacity="0.54">
<ellipse cx="315.2" cy="274.8" rx="5.3" ry="7.3" fill="#5a50f0" opacity="0.5" filter="url(#blur1)"/>
<ellipse cx="316.0" cy="274.0" rx="4.8" ry="6.7" fill="url(#ringG)" stroke="#3a66e0" stroke-width="0.8" stroke-opacity="0.5"/>
<ellipse cx="315.7" cy="274.1" rx="2.1" ry="3.0" fill="url(#holeG)"/>
<path d="M313.3,270.0 q-1.2,4.0 0.2,7.7" stroke="#c040ec" stroke-width="1.1" fill="none" opacity="0.7"/>
</g>
<g opacity="0.58">
<ellipse cx="286.8" cy="291.2" rx="10.9" ry="10.9" fill="#5a50f0" opacity="0.5" filter="url(#blur1)"/>
<ellipse cx="288.0" cy="290.0" rx="9.9" ry="10.1" fill="url(#ringG)" stroke="#3a66e0" stroke-width="0.8" stroke-opacity="0.5"/>
<ellipse cx="287.5" cy="290.2" rx="4.4" ry="4.5" fill="url(#holeG)"/>
</g>
<g opacity="0.63">
<ellipse cx="254.7" cy="309.3" rx="11.8" ry="12.1" fill="#5a50f0" opacity="0.5" filter="url(#blur1)"/>
<ellipse cx="256.0" cy="308.0" rx="10.7" ry="11.2" fill="url(#ringG)" stroke="#3a66e0" stroke-width="0.8" stroke-opacity="0.5"/>
<ellipse cx="255.4" cy="308.2" rx="4.7" ry="5.0" fill="url(#holeG)"/>
</g>
<g opacity="0.66">
<ellipse cx="304.7" cy="323.3" rx="9.6" ry="12.1" fill="#5a50f0" opacity="0.5" filter="url(#blur1)"/>
<ellipse cx="306.0" cy="322.0" rx="8.7" ry="11.2" fill="url(#ringG)" stroke="#3a66e0" stroke-width="0.8" stroke-opacity="0.5"/>
<ellipse cx="305.4" cy="322.2" rx="3.8" ry="5.0" fill="url(#holeG)"/>
<path d="M301.2,315.3 q-2.2,6.7 0.4,12.9" stroke="#c040ec" stroke-width="1.8" fill="none" opacity="0.7"/>
</g>
<g opacity="0.75">
<ellipse cx="230.5" cy="363.5" rx="13.0" ry="13.3" fill="#5a50f0" opacity="0.5" filter="url(#blur1)"/>
<ellipse cx="232.0" cy="362.0" rx="11.8" ry="12.3" fill="url(#ringG)" stroke="#3a66e0" stroke-width="0.8" stroke-opacity="0.5"/>
<ellipse cx="231.4" cy="362.2" rx="5.2" ry="5.5" fill="url(#holeG)"/>
<path d="M225.5,354.6 q-3.0,7.4 0.6,14.2" stroke="#c040ec" stroke-width="2.0" fill="none" opacity="0.7"/>
</g>
<g opacity="0.80">
<ellipse cx="283.4" cy="382.6" rx="12.5" ry="14.5" fill="#5a50f0" opacity="0.5" filter="url(#blur1)"/>
<ellipse cx="285.0" cy="381.0" rx="11.4" ry="13.4" fill="url(#ringG)" stroke="#3a66e0" stroke-width="0.8" stroke-opacity="0.5"/>
<ellipse cx="284.3" cy="381.3" rx="5.0" ry="6.0" fill="url(#holeG)"/>
<path d="M278.8,372.9 q-2.8,8.1 0.6,15.5" stroke="#c040ec" stroke-width="2.2" fill="none" opacity="0.7"/>
</g>
<g opacity="0.84">
<ellipse cx="234.3" cy="401.7" rx="16.0" ry="15.7" fill="#5a50f0" opacity="0.5" filter="url(#blur1)"/>
<ellipse cx="236.0" cy="400.0" rx="14.6" ry="14.6" fill="url(#ringG)" stroke="#3a66e0" stroke-width="0.8" stroke-opacity="0.5"/>
<ellipse cx="235.3" cy="400.3" rx="6.4" ry="6.6" fill="url(#holeG)"/>
</g>
<g opacity="0.90">
<ellipse cx="183.3" cy="426.7" rx="14.0" ry="15.7" fill="#5a50f0" opacity="0.5" filter="url(#blur1)"/>
<ellipse cx="185.0" cy="425.0" rx="12.7" ry="14.6" fill="url(#ringG)" stroke="#3a66e0" stroke-width="0.8" stroke-opacity="0.5"/>
<ellipse cx="184.3" cy="425.3" rx="5.6" ry="6.6" fill="url(#holeG)"/>
</g>
<g opacity="0.95">
<ellipse cx="250.1" cy="446.9" rx="16.2" ry="16.9" fill="#5a50f0" opacity="0.5" filter="url(#blur1)"/>
<ellipse cx="252.0" cy="445.0" rx="14.7" ry="15.7" fill="url(#ringG)" stroke="#3a66e0" stroke-width="0.8" stroke-opacity="0.5"/>
<ellipse cx="251.2" cy="445.3" rx="6.5" ry="7.1" fill="url(#holeG)"/>
</g>
<g opacity="0.89">
<ellipse cx="288.7" cy="421.3" rx="8.1" ry="12.1" fill="#5a50f0" opacity="0.5" filter="url(#blur1)"/>
<ellipse cx="290.0" cy="420.0" rx="7.4" ry="11.2" fill="url(#ringG)" stroke="#3a66e0" stroke-width="0.8" stroke-opacity="0.5"/>
<ellipse cx="289.4" cy="420.2" rx="3.2" ry="5.0" fill="url(#holeG)"/>
</g>
<g opacity="1.00">
<ellipse cx="195.0" cy="477.0" rx="18.2" ry="18.1" fill="#5a50f0" opacity="0.5" filter="url(#blur1)"/>
<ellipse cx="197.0" cy="475.0" rx="16.5" ry="16.8" fill="url(#ringG)" stroke="#3a66e0" stroke-width="0.8" stroke-opacity="0.5"/>
<ellipse cx="196.2" cy="475.3" rx="7.3" ry="7.6" fill="url(#holeG)"/>
<path d="M187.9,464.9 q-4.1,10.1 0.8,19.3" stroke="#c040ec" stroke-width="2.7" fill="none" opacity="0.7"/>
</g>
<g opacity="1.00">
<ellipse cx="272.3" cy="491.7" rx="11.3" ry="15.7" fill="#5a50f0" opacity="0.5" filter="url(#blur1)"/>
<ellipse cx="274.0" cy="490.0" rx="10.3" ry="14.6" fill="url(#ringG)" stroke="#3a66e0" stroke-width="0.8" stroke-opacity="0.5"/>
<ellipse cx="273.3" cy="490.3" rx="4.5" ry="6.6" fill="url(#holeG)"/>
</g>
<g opacity="1.00">
<ellipse cx="143.4" cy="516.6" rx="11.4" ry="14.5" fill="#5a50f0" opacity="0.5" filter="url(#blur1)"/>
<ellipse cx="145.0" cy="515.0" rx="10.3" ry="13.4" fill="url(#ringG)" stroke="#3a66e0" stroke-width="0.8" stroke-opacity="0.5"/>
<ellipse cx="144.3" cy="515.3" rx="4.5" ry="6.0" fill="url(#holeG)"/>
</g>
<g opacity="1.00">
<ellipse cx="205.0" cy="527.0" rx="18.5" ry="18.1" fill="#5a50f0" opacity="0.5" filter="url(#blur1)"/>
<ellipse cx="207.0" cy="525.0" rx="16.8" ry="16.8" fill="url(#ringG)" stroke="#3a66e0" stroke-width="0.8" stroke-opacity="0.5"/>
<ellipse cx="206.2" cy="525.3" rx="7.4" ry="7.6" fill="url(#holeG)"/>
<path d="M197.8,514.9 q-4.2,10.1 0.8,19.3" stroke="#c040ec" stroke-width="2.7" fill="none" opacity="0.7"/>
</g>
<g opacity="1.00">
<ellipse cx="268.3" cy="533.7" rx="11.9" ry="15.7" fill="#5a50f0" opacity="0.5" filter="url(#blur1)"/>
<ellipse cx="270.0" cy="532.0" rx="10.8" ry="14.6" fill="url(#ringG)" stroke="#3a66e0" stroke-width="0.8" stroke-opacity="0.5"/>
<ellipse cx="269.3" cy="532.3" rx="4.7" ry="6.6" fill="url(#holeG)"/>
</g>
<g opacity="1.00">
<ellipse cx="250.1" cy="581.9" rx="15.2" ry="16.9" fill="#5a50f0" opacity="0.5" filter="url(#blur1)"/>
<ellipse cx="252.0" cy="580.0" rx="13.8" ry="15.7" fill="url(#ringG)" stroke="#3a66e0" stroke-width="0.8" stroke-opacity="0.5"/>
<ellipse cx="251.2" cy="580.3" rx="6.1" ry="7.1" fill="url(#holeG)"/>
</g>
<g opacity="1.00">
<ellipse cx="183.1" cy="576.9" rx="16.9" ry="16.9" fill="#5a50f0" opacity="0.5" filter="url(#blur1)"/>
<ellipse cx="185.0" cy="575.0" rx="15.4" ry="15.7" fill="url(#ringG)" stroke="#3a66e0" stroke-width="0.8" stroke-opacity="0.5"/>
<ellipse cx="184.2" cy="575.3" rx="6.8" ry="7.1" fill="url(#holeG)"/>
<path d="M176.5,565.6 q-3.9,9.4 0.8,18.0" stroke="#c040ec" stroke-width="2.5" fill="none" opacity="0.7"/>
</g>
<g opacity="1.00">
<ellipse cx="144.1" cy="629.9" rx="15.0" ry="16.9" fill="#5a50f0" opacity="0.5" filter="url(#blur1)"/>
<ellipse cx="146.0" cy="628.0" rx="13.6" ry="15.7" fill="url(#ringG)" stroke="#3a66e0" stroke-width="0.8" stroke-opacity="0.5"/>
<ellipse cx="145.2" cy="628.3" rx="6.0" ry="7.1" fill="url(#holeG)"/>
</g>
<g opacity="1.00">
<ellipse cx="208.3" cy="584.7" rx="16.0" ry="15.7" fill="#5a50f0" opacity="0.5" filter="url(#blur1)"/>
<ellipse cx="210.0" cy="583.0" rx="14.5" ry="14.6" fill="url(#ringG)" stroke="#3a66e0" stroke-width="0.8" stroke-opacity="0.5"/>
<ellipse cx="209.3" cy="583.3" rx="6.4" ry="6.6" fill="url(#holeG)"/>
</g>
<g opacity="1.00">
<ellipse cx="220.1" cy="632.9" rx="16.9" ry="16.9" fill="#5a50f0" opacity="0.5" filter="url(#blur1)"/>
<ellipse cx="222.0" cy="631.0" rx="15.4" ry="15.7" fill="url(#ringG)" stroke="#3a66e0" stroke-width="0.8" stroke-opacity="0.5"/>
<ellipse cx="221.2" cy="631.3" rx="6.8" ry="7.1" fill="url(#holeG)"/>
</g>
<g opacity="1.00">
<ellipse cx="275.3" cy="629.7" rx="11.6" ry="15.7" fill="#5a50f0" opacity="0.5" filter="url(#blur1)"/>
<ellipse cx="277.0" cy="628.0" rx="10.6" ry="14.6" fill="url(#ringG)" stroke="#3a66e0" stroke-width="0.8" stroke-opacity="0.5"/>
<ellipse cx="276.3" cy="628.3" rx="4.6" ry="6.6" fill="url(#holeG)"/>
<path d="M271.2,619.3 q-2.6,8.7 0.5,16.7" stroke="#c040ec" stroke-width="2.3" fill="none" opacity="0.7"/>
</g>
<g opacity="1.00">
<ellipse cx="112.8" cy="619.2" rx="6.7" ry="10.9" fill="#5a50f0" opacity="0.5" filter="url(#blur1)"/>
<ellipse cx="114.0" cy="618.0" rx="6.1" ry="10.1" fill="url(#ringG)" stroke="#3a66e0" stroke-width="0.8" stroke-opacity="0.5"/>
<ellipse cx="113.5" cy="618.2" rx="2.7" ry="4.5" fill="url(#holeG)"/>
</g>
<g opacity="1.00">
<ellipse cx="179.1" cy="677.9" rx="16.9" ry="16.9" fill="#5a50f0" opacity="0.5" filter="url(#blur1)"/>
<ellipse cx="181.0" cy="676.0" rx="15.4" ry="15.7" fill="url(#ringG)" stroke="#3a66e0" stroke-width="0.8" stroke-opacity="0.5"/>
<ellipse cx="180.2" cy="676.3" rx="6.8" ry="7.1" fill="url(#holeG)"/>
</g>
<g opacity="1.00">
<ellipse cx="246.1" cy="680.9" rx="15.5" ry="16.9" fill="#5a50f0" opacity="0.5" filter="url(#blur1)"/>
<ellipse cx="248.0" cy="679.0" rx="14.1" ry="15.7" fill="url(#ringG)" stroke="#3a66e0" stroke-width="0.8" stroke-opacity="0.5"/>
<ellipse cx="247.2" cy="679.3" rx="6.2" ry="7.1" fill="url(#holeG)"/>
</g>
<g opacity="1.00">
<ellipse cx="121.7" cy="674.3" rx="8.5" ry="12.1" fill="#5a50f0" opacity="0.5" filter="url(#blur1)"/>
<ellipse cx="123.0" cy="673.0" rx="7.8" ry="11.2" fill="url(#ringG)" stroke="#3a66e0" stroke-width="0.8" stroke-opacity="0.5"/>
<ellipse cx="122.4" cy="673.2" rx="3.4" ry="5.0" fill="url(#holeG)"/>
</g>
<g opacity="1.00">
<ellipse cx="282.8" cy="677.2" rx="7.2" ry="10.9" fill="#5a50f0" opacity="0.5" filter="url(#blur1)"/>
<ellipse cx="284.0" cy="676.0" rx="6.5" ry="10.1" fill="url(#ringG)" stroke="#3a66e0" stroke-width="0.8" stroke-opacity="0.5"/>
<ellipse cx="283.5" cy="676.2" rx="2.9" ry="4.5" fill="url(#holeG)"/>
</g>
<g opacity="0.41">
<ellipse cx="272.9" cy="218.3" rx="6.3" ry="7.0" fill="#5a50f0" opacity="0.5" filter="url(#blur1)"/>
<ellipse cx="273.7" cy="217.5" rx="5.7" ry="6.5" fill="url(#ringG)" stroke="#3a66e0" stroke-width="0.8" stroke-opacity="0.5"/>
<ellipse cx="273.4" cy="217.6" rx="2.5" ry="2.9" fill="url(#holeG)"/>
</g>
<g opacity="0.40">
<ellipse cx="288.9" cy="212.6" rx="7.1" ry="7.0" fill="#5a50f0" opacity="0.5" filter="url(#blur1)"/>
<ellipse cx="289.7" cy="211.8" rx="6.5" ry="6.5" fill="url(#ringG)" stroke="#3a66e0" stroke-width="0.8" stroke-opacity="0.5"/>
<ellipse cx="289.4" cy="212.0" rx="2.9" ry="2.9" fill="url(#holeG)"/>
<path d="M286.1,207.9 q-1.6,3.9 0.3,7.5" stroke="#c040ec" stroke-width="1.0" fill="none" opacity="0.7"/>
</g>
<g opacity="0.46">
<ellipse cx="307.6" cy="238.7" rx="7.2" ry="8.0" fill="#5a50f0" opacity="0.5" filter="url(#blur1)"/>
<ellipse cx="308.5" cy="237.8" rx="6.5" ry="7.4" fill="url(#ringG)" stroke="#3a66e0" stroke-width="0.8" stroke-opacity="0.5"/>
<ellipse cx="308.1" cy="237.9" rx="2.9" ry="3.3" fill="url(#holeG)"/>
</g>
<g opacity="0.69">
<ellipse cx="237.6" cy="337.6" rx="11.4" ry="12.3" fill="#5a50f0" opacity="0.5" filter="url(#blur1)"/>
<ellipse cx="239.0" cy="336.2" rx="10.3" ry="11.4" fill="url(#ringG)" stroke="#3a66e0" stroke-width="0.8" stroke-opacity="0.5"/>
<ellipse cx="238.4" cy="336.5" rx="4.6" ry="5.1" fill="url(#holeG)"/>
</g>
<g opacity="0.67">
<ellipse cx="265.8" cy="329.6" rx="12.6" ry="12.3" fill="#5a50f0" opacity="0.5" filter="url(#blur1)"/>
<ellipse cx="267.2" cy="328.3" rx="11.4" ry="11.4" fill="url(#ringG)" stroke="#3a66e0" stroke-width="0.8" stroke-opacity="0.5"/>
<ellipse cx="266.6" cy="328.5" rx="5.0" ry="5.1" fill="url(#holeG)"/>
</g>
<g opacity="0.73">
<ellipse cx="260.7" cy="354.9" rx="14.5" ry="14.3" fill="#5a50f0" opacity="0.5" filter="url(#blur1)"/>
<ellipse cx="262.3" cy="353.3" rx="13.2" ry="13.2" fill="url(#ringG)" stroke="#3a66e0" stroke-width="0.8" stroke-opacity="0.5"/>
<ellipse cx="261.6" cy="353.6" rx="5.8" ry="6.0" fill="url(#holeG)"/>
</g>
<g opacity="0.71">
<ellipse cx="293.4" cy="346.2" rx="12.3" ry="14.3" fill="#5a50f0" opacity="0.5" filter="url(#blur1)"/>
<ellipse cx="295.0" cy="344.6" rx="11.2" ry="13.2" fill="url(#ringG)" stroke="#3a66e0" stroke-width="0.8" stroke-opacity="0.5"/>
<ellipse cx="294.3" cy="344.9" rx="4.9" ry="6.0" fill="url(#holeG)"/>
<path d="M288.8,336.7 q-2.8,7.9 0.6,15.2" stroke="#c040ec" stroke-width="2.1" fill="none" opacity="0.7"/>
</g>
<g opacity="1.00">
<ellipse cx="230.9" cy="496.5" rx="14.9" ry="15.1" fill="#5a50f0" opacity="0.5" filter="url(#blur1)"/>
<ellipse cx="232.6" cy="494.8" rx="13.5" ry="14.0" fill="url(#ringG)" stroke="#3a66e0" stroke-width="0.8" stroke-opacity="0.5"/>
<ellipse cx="231.9" cy="495.1" rx="5.9" ry="6.3" fill="url(#holeG)"/>
</g>
<g opacity="1.00">
<ellipse cx="151.5" cy="550.6" rx="13.1" ry="15.1" fill="#5a50f0" opacity="0.5" filter="url(#blur1)"/>
<ellipse cx="153.2" cy="548.9" rx="11.9" ry="14.0" fill="url(#ringG)" stroke="#3a66e0" stroke-width="0.8" stroke-opacity="0.5"/>
<ellipse cx="152.5" cy="549.2" rx="5.3" ry="6.3" fill="url(#holeG)"/>
</g>
<g opacity="1.00">
<ellipse cx="151.9" cy="593.1" rx="13.5" ry="15.1" fill="#5a50f0" opacity="0.5" filter="url(#blur1)"/>
<ellipse cx="153.6" cy="591.4" rx="12.2" ry="14.0" fill="url(#ringG)" stroke="#3a66e0" stroke-width="0.8" stroke-opacity="0.5"/>
<ellipse cx="152.9" cy="591.7" rx="5.4" ry="6.3" fill="url(#holeG)"/>
</g>
<g opacity="1.00">
<ellipse cx="147.2" cy="686.2" rx="13.4" ry="15.1" fill="#5a50f0" opacity="0.5" filter="url(#blur1)"/>
<ellipse cx="148.8" cy="684.5" rx="12.2" ry="14.0" fill="url(#ringG)" stroke="#3a66e0" stroke-width="0.8" stroke-opacity="0.5"/>
<ellipse cx="148.1" cy="684.8" rx="5.4" ry="6.3" fill="url(#holeG)"/>
</g>
</g>
</g>
<g>
<path d="M412.0,868.0 C412.0,890.4 460.0,896.0 532.0,896.0 C604.0,896.0 652.0,890.4 652.0,868.0 C652.0,848.4 604.0,840.0 532.0,840.0 C460.0,840.0 412.0,848.4 412.0,868.0 Z" fill="url(#rimG)"/>
<path d="M448.0,827.0 Q532.0,823.0 616.0,827.0 C624.4,833.0 644.0,846.5 644.0,857.0 Q532.0,891.0 420.0,857.0 C420.0,846.5 439.6,833.0 448.0,827.0 Z" fill="url(#baseG)"/>
<g clip-path="url(#bclip1)">
<g filter="url(#blur06)">
<path d="M424.0,817.0 L452.8,817.0 Q467.2,858.0 491.2,899.0 L457.6,899.0 Q436.0,858.0 424.0,817.0 Z" fill="#9a4cf0" opacity="0.85"/>
<path d="M452.8,817.0 L467.2,817.0 Q476.8,858.0 496.0,899.0 L476.8,899.0 Q460.0,858.0 452.8,817.0 Z" fill="#d040e0" opacity="0.80"/>
<path d="M407.2,817.0 L424.0,817.0 Q425.2,858.0 436.0,899.0 L416.8,899.0 Q407.2,858.0 407.2,817.0 Z" fill="#c040e0" opacity="0.75"/>
<path d="M493.6,817.0 L508.0,817.0 Q514.0,858.0 529.6,899.0 L515.2,899.0 Q499.6,858.0 493.6,817.0 Z" fill="#a048ec" opacity="0.65"/>
<path d="M508.0,817.0 L512.8,817.0 Q520.0,858.0 536.8,899.0 L532.0,899.0 Q515.2,858.0 508.0,817.0 Z" fill="#d040e0" opacity="0.80"/>
<path d="M520.0,817.0 L524.8,817.0 Q535.6,858.0 556.0,899.0 L551.2,899.0 Q530.8,858.0 520.0,817.0 Z" fill="#d040e0" opacity="0.80"/>
<path d="M534.4,817.0 L541.6,817.0 Q551.2,858.0 570.4,899.0 L560.8,899.0 Q542.8,858.0 534.4,817.0 Z" fill="#c840e4" opacity="0.80"/>
<path d="M608.8,817.0 L620.8,817.0 Q624.4,858.0 637.6,899.0 L625.6,899.0 Q612.4,858.0 608.8,817.0 Z" fill="#8a50f0" opacity="0.60"/>
<path d="M436.0,817.0 L445.6,817.0 Q438.4,858.0 440.8,899.0 L424.0,899.0 Q425.2,858.0 436.0,817.0 Z" fill="#8a58f4" opacity="0.45"/>
</g>
<rect x="412.0" y="818.0" width="240.0" height="56.0" fill="url(#fsh1)"/>
<path d="M414.0,859.0 Q532.0,894.0 650.0,859.0" fill="none" stroke="#5cbcff" stroke-width="2.5" opacity="0.45"/>
<path d="M416.0,856.0 Q532.0,889.0 648.0,856.0" fill="none" stroke="#2a5ed6" stroke-width="1.5" opacity="0.55"/>
<path d="M434.0,826.0 Q532.5,838.0 631.0,826.0" fill="none" stroke="#2840b8" stroke-width="6" opacity="0.35" filter="url(#blur1)"/>
</g>
<ellipse cx="588.3" cy="331.2" rx="5.7" ry="6.4" fill="url(#bumpL)"/>
<ellipse cx="586.8" cy="345.0" rx="6.1" ry="6.8" fill="url(#bumpL)"/>
<ellipse cx="627.9" cy="326.8" rx="6.1" ry="6.8" fill="url(#bumpR)"/>
<ellipse cx="582.1" cy="359.8" rx="6.6" ry="7.4" fill="url(#bumpL)"/>
<ellipse cx="629.4" cy="340.8" rx="6.6" ry="7.4" fill="url(#bumpR)"/>
<ellipse cx="573.4" cy="376.3" rx="7.5" ry="8.4" fill="url(#bumpL)"/>
<ellipse cx="630.1" cy="355.5" rx="7.5" ry="8.4" fill="url(#bumpR)"/>
<ellipse cx="563.4" cy="394.8" rx="8.5" ry="9.5" fill="url(#bumpL)"/>
<ellipse cx="628.2" cy="372.1" rx="8.5" ry="9.5" fill="url(#bumpR)"/>
<ellipse cx="554.0" cy="415.6" rx="9.5" ry="10.6" fill="url(#bumpL)"/>
<ellipse cx="625.4" cy="391.6" rx="9.5" ry="10.6" fill="url(#bumpR)"/>
<ellipse cx="541.4" cy="438.6" rx="10.6" ry="11.9" fill="url(#bumpL)"/>
<ellipse cx="621.7" cy="413.2" rx="10.6" ry="11.9" fill="url(#bumpR)"/>
<ellipse cx="530.5" cy="463.8" rx="11.5" ry="12.9" fill="url(#bumpL)"/>
<ellipse cx="617.7" cy="438.1" rx="11.5" ry="12.9" fill="url(#bumpR)"/>
<ellipse cx="510.9" cy="491.1" rx="12.7" ry="14.2" fill="url(#bumpL)"/>
<ellipse cx="608.7" cy="465.1" rx="12.7" ry="14.2" fill="url(#bumpR)"/>
<ellipse cx="499.2" cy="521.0" rx="12.8" ry="14.2" fill="url(#bumpL)"/>
<ellipse cx="603.1" cy="495.0" rx="12.8" ry="14.2" fill="url(#bumpR)"/>
<ellipse cx="487.0" cy="553.0" rx="12.8" ry="14.2" fill="url(#bumpL)"/>
<ellipse cx="595.9" cy="528.9" rx="12.8" ry="14.2" fill="url(#bumpR)"/>
<ellipse cx="480.4" cy="586.3" rx="12.8" ry="14.2" fill="url(#bumpL)"/>
<ellipse cx="589.4" cy="564.5" rx="12.8" ry="14.2" fill="url(#bumpR)"/>
<ellipse cx="475.4" cy="621.2" rx="12.8" ry="14.2" fill="url(#bumpL)"/>
<ellipse cx="592.3" cy="602.0" rx="12.8" ry="14.2" fill="url(#bumpR)"/>
<ellipse cx="468.5" cy="657.9" rx="12.8" ry="14.2" fill="url(#bumpL)"/>
<ellipse cx="594.0" cy="641.6" rx="12.8" ry="14.2" fill="url(#bumpR)"/>
<ellipse cx="465.6" cy="696.7" rx="12.8" ry="14.2" fill="url(#bumpL)"/>
<ellipse cx="599.1" cy="684.3" rx="12.8" ry="14.2" fill="url(#bumpR)"/>
<path d="M458.0,731.0 C438.8,738.6 434.0,759.5 434.0,778.5 L435.0,823.0 Q532.5,835.0 630.0,821.0 L631.0,778.5 C631.0,759.5 625.8,738.6 605.0,731.0 Z" fill="#2a90ff"/>
<path d="M592.0,286.0 C588.8,287.8 588.3,290.0 587.0,294.0 C585.7,298.0 584.4,302.3 584.0,310.0 C583.6,317.7 584.6,332.5 584.4,340.0 C584.2,347.5 584.1,350.0 582.9,355.0 C581.8,360.0 580.6,364.2 577.6,370.0 C574.7,375.8 568.9,383.3 565.4,390.0 C561.9,396.7 559.6,404.0 556.4,410.0 C553.2,416.0 549.4,421.0 546.4,426.0 C543.4,431.0 542.1,432.7 538.4,440.0 C534.7,447.3 529.4,462.2 524.4,470.0 C519.4,477.8 512.4,481.2 508.4,487.0 C504.4,492.8 502.9,498.7 500.4,505.0 C497.9,511.3 496.1,518.0 493.4,525.0 C490.7,532.0 486.9,540.0 484.4,547.0 C481.9,554.0 480.1,558.2 478.4,567.0 C476.7,575.8 475.7,590.3 474.4,600.0 C473.1,609.7 472.2,614.7 470.4,625.0 C468.6,635.3 465.1,652.8 463.4,662.0 C461.7,671.2 461.1,673.7 460.4,680.0 C459.7,686.3 458.9,692.0 459.2,700.0 C459.6,708.0 461.7,721.3 462.5,728.0 C463.3,734.7 441.3,738.0 464.0,740.0 C486.7,742.0 576.3,742.0 599.0,740.0 C621.7,738.0 599.4,733.5 600.5,728.0 C601.6,722.5 605.2,715.0 605.7,707.0 C606.2,699.0 604.3,687.8 603.6,680.0 C602.9,672.2 602.6,667.2 601.6,660.0 C600.6,652.8 598.4,647.0 597.6,637.0 C596.8,627.0 597.3,612.5 596.6,600.0 C595.9,587.5 592.4,576.7 593.6,562.0 C594.8,547.3 601.1,524.0 603.6,512.0 C606.1,500.0 606.9,498.3 608.6,490.0 C610.3,481.7 611.6,470.3 613.6,462.0 C615.6,453.7 618.6,450.3 620.6,440.0 C622.6,429.7 623.7,413.3 625.6,400.0 C627.5,386.7 630.6,371.7 632.0,360.0 C633.4,348.3 634.5,338.3 634.0,330.0 C633.5,321.7 630.5,316.3 629.0,310.0 C627.5,303.7 626.7,296.3 625.0,292.0 C623.3,287.7 622.2,285.4 619.0,284.0 C615.8,282.6 610.5,283.2 606.0,283.5 C601.5,283.8 595.2,284.2 592.0,286.0 Z" fill="#2a92ff"/>
<g clip-path="url(#clip1)">
<path d="M592.0,286.0 C588.8,287.8 588.3,290.0 587.0,294.0 C585.7,298.0 584.4,302.3 584.0,310.0 C583.6,317.7 584.6,332.5 584.4,340.0 C584.2,347.5 584.1,350.0 582.9,355.0 C581.8,360.0 580.6,364.2 577.6,370.0 C574.7,375.8 568.9,383.3 565.4,390.0 C561.9,396.7 559.6,404.0 556.4,410.0 C553.2,416.0 549.4,421.0 546.4,426.0 C543.4,431.0 542.1,432.7 538.4,440.0 C534.7,447.3 529.4,462.2 524.4,470.0 C519.4,477.8 512.4,481.2 508.4,487.0 C504.4,492.8 502.9,498.7 500.4,505.0 C497.9,511.3 496.1,518.0 493.4,525.0 C490.7,532.0 486.9,540.0 484.4,547.0 C481.9,554.0 480.1,558.2 478.4,567.0 C476.7,575.8 475.7,590.3 474.4,600.0 C473.1,609.7 472.2,614.7 470.4,625.0 C468.6,635.3 465.1,652.8 463.4,662.0 C461.7,671.2 461.1,673.7 460.4,680.0 C459.7,686.3 458.9,692.0 459.2,700.0 C459.6,708.0 461.7,721.3 462.5,728.0 C463.3,734.7 441.3,738.0 464.0,740.0 C486.7,742.0 576.3,742.0 599.0,740.0 C621.7,738.0 599.4,733.5 600.5,728.0 C601.6,722.5 605.2,715.0 605.7,707.0 C606.2,699.0 604.3,687.8 603.6,680.0 C602.9,672.2 602.6,667.2 601.6,660.0 C600.6,652.8 598.4,647.0 597.6,637.0 C596.8,627.0 597.3,612.5 596.6,600.0 C595.9,587.5 592.4,576.7 593.6,562.0 C594.8,547.3 601.1,524.0 603.6,512.0 C606.1,500.0 606.9,498.3 608.6,490.0 C610.3,481.7 611.6,470.3 613.6,462.0 C615.6,453.7 618.6,450.3 620.6,440.0 C622.6,429.7 623.7,413.3 625.6,400.0 C627.5,386.7 630.6,371.7 632.0,360.0 C633.4,348.3 634.5,338.3 634.0,330.0 C633.5,321.7 630.5,316.3 629.0,310.0 C627.5,303.7 626.7,296.3 625.0,292.0 C623.3,287.7 622.2,285.4 619.0,284.0 C615.8,282.6 610.5,283.2 606.0,283.5 C601.5,283.8 595.2,284.2 592.0,286.0 Z" fill="none" stroke="#6a5cff" stroke-width="10" opacity="0.35" filter="url(#blur3)"/>
<path d="M595.0,286.0 L590.0,294.0 L587.0,310.0 L585.0,340.0 L581.0,355.0 L573.0,370.0 L560.0,390.0 L551.0,410.0 L541.0,426.0 L533.0,440.0 L519.0,470.0 L503.0,487.0 L495.0,505.0 L488.0,525.0 L479.0,547.0 L473.0,567.0 L469.0,600.0 L465.0,625.0 L458.0,662.0 L455.0,680.0 L456.0,700.0 L463.0,728.0" fill="none" stroke="url(#lcg1)" stroke-width="22" filter="url(#blur3)"/>
<path d="M616.0,284.0 L622.0,292.0 L626.0,310.0 L632.0,330.0 L635.0,360.0 L631.0,400.0 L626.0,440.0 L619.0,462.0 L614.0,490.0 L609.0,512.0 L599.0,562.0 L602.0,600.0 L603.0,637.0 L607.0,660.0 L609.0,680.0 L608.0,707.0 L600.0,728.0" fill="none" stroke="#7a54f4" stroke-width="18" opacity="0.25" filter="url(#blur3)"/>
<path d="M458.0,731.0 C438.8,738.6 434.0,759.5 434.0,778.5 L435.0,823.0 Q532.5,835.0 630.0,821.0 L631.0,778.5 C631.0,759.5 625.8,738.6 605.0,731.0 Z" fill="none" stroke="#7a58f8" stroke-width="12" opacity="0.3" filter="url(#blur3)"/>
<rect x="0" y="0" width="1000" height="1000" fill="url(#ug1)"/>
<rect x="0" y="0" width="1000" height="1000" fill="url(#lg1)"/>
<rect x="434" y="728" width="197" height="105" fill="#000" filter="url(#speck)" clip-path="url(#dclip1)" opacity="0.08"/>
<path d="M434.0,730.0 Q532.5,738.0 631.0,730.0" fill="none" stroke="#5a50f0" stroke-width="4" opacity="0.25" filter="url(#blur2)"/>
<path d="M577.3,313.5 Q606.4,305.9 635.4,292.5" fill="none" stroke="#5a5af8" stroke-width="2.6" opacity="0.11" filter="url(#blur1)"/>
<path d="M577.3,317.4 Q606.4,309.8 635.4,296.4" fill="none" stroke="#5cb0ff" stroke-width="3.9" opacity="0.16" filter="url(#blur1)"/>
<path d="M575.6,326.9 Q607.2,318.8 638.7,304.7" fill="none" stroke="#5a5af8" stroke-width="2.7" opacity="0.13" filter="url(#blur1)"/>
<path d="M575.6,330.9 Q607.2,322.8 638.7,308.8" fill="none" stroke="#5cb0ff" stroke-width="4.0" opacity="0.16" filter="url(#blur1)"/>
<path d="M574.8,340.2 Q608.7,331.9 642.6,317.1" fill="none" stroke="#5a5af8" stroke-width="2.9" opacity="0.14" filter="url(#blur1)"/>
<path d="M574.8,344.6 Q608.7,336.2 642.6,321.5" fill="none" stroke="#5cb0ff" stroke-width="4.3" opacity="0.16" filter="url(#blur1)"/>
<path d="M573.3,354.2 Q608.8,345.9 644.2,330.8" fill="none" stroke="#5a5af8" stroke-width="3.1" opacity="0.16" filter="url(#blur1)"/>
<path d="M573.3,358.9 Q608.8,350.6 644.2,335.5" fill="none" stroke="#5cb0ff" stroke-width="4.7" opacity="0.16" filter="url(#blur1)"/>
<path d="M568.9,369.3 Q607.3,361.0 645.7,344.9" fill="none" stroke="#5a5af8" stroke-width="3.5" opacity="0.18" filter="url(#blur1)"/>
<path d="M568.9,374.6 Q607.3,366.2 645.7,350.1" fill="none" stroke="#5cb0ff" stroke-width="5.3" opacity="0.16" filter="url(#blur1)"/>
<path d="M559.8,386.4 Q602.2,377.9 644.7,360.5" fill="none" stroke="#5a5af8" stroke-width="4.0" opacity="0.20" filter="url(#blur1)"/>
<path d="M559.8,392.4 Q602.2,383.9 644.7,366.5" fill="none" stroke="#5cb0ff" stroke-width="6.0" opacity="0.16" filter="url(#blur1)"/>
<path d="M547.9,406.2 Q595.3,397.3 642.8,378.7" fill="none" stroke="#5a5af8" stroke-width="4.5" opacity="0.22" filter="url(#blur1)"/>
<path d="M547.9,412.9 Q595.3,404.0 642.8,385.3" fill="none" stroke="#5cb0ff" stroke-width="6.7" opacity="0.16" filter="url(#blur1)"/>
<path d="M537.9,427.4 Q589.1,418.9 640.3,399.4" fill="none" stroke="#5a5af8" stroke-width="5.0" opacity="0.24" filter="url(#blur1)"/>
<path d="M537.9,434.9 Q589.1,426.4 640.3,406.9" fill="none" stroke="#5cb0ff" stroke-width="7.5" opacity="0.16" filter="url(#blur1)"/>
<path d="M523.5,451.9 Q580.4,443.3 637.3,422.8" fill="none" stroke="#5a5af8" stroke-width="5.4" opacity="0.27" filter="url(#blur1)"/>
<path d="M523.5,460.0 Q580.4,451.5 637.3,431.0" fill="none" stroke="#5cb0ff" stroke-width="8.2" opacity="0.16" filter="url(#blur1)"/>
<path d="M511.2,477.1 Q570.5,469.7 629.8,449.2" fill="none" stroke="#5a5af8" stroke-width="6.0" opacity="0.30" filter="url(#blur1)"/>
<path d="M511.2,486.1 Q570.5,478.7 629.8,458.2" fill="none" stroke="#5cb0ff" stroke-width="9.0" opacity="0.16" filter="url(#blur1)"/>
<path d="M490.0,505.9 Q557.3,498.8 624.7,477.2" fill="none" stroke="#5a5af8" stroke-width="6.6" opacity="0.30" filter="url(#blur1)"/>
<path d="M490.0,515.8 Q557.3,508.7 624.7,487.1" fill="none" stroke="#5cb0ff" stroke-width="9.9" opacity="0.16" filter="url(#blur1)"/>
<path d="M477.5,536.9 Q547.6,531.3 617.7,510.5" fill="none" stroke="#5a5af8" stroke-width="6.9" opacity="0.30" filter="url(#blur1)"/>
<path d="M477.5,547.3 Q547.6,541.6 617.7,520.8" fill="none" stroke="#5cb0ff" stroke-width="10.3" opacity="0.16" filter="url(#blur1)"/>
<path d="M464.9,569.2 Q537.9,565.3 610.9,545.4" fill="none" stroke="#5a5af8" stroke-width="7.2" opacity="0.30" filter="url(#blur1)"/>
<path d="M464.9,580.1 Q537.9,576.1 610.9,556.3" fill="none" stroke="#5cb0ff" stroke-width="10.9" opacity="0.16" filter="url(#blur1)"/>
<path d="M458.9,603.0 Q535.7,600.9 612.4,582.1" fill="none" stroke="#5a5af8" stroke-width="7.6" opacity="0.30" filter="url(#blur1)"/>
<path d="M458.9,614.4 Q535.7,612.4 612.4,593.5" fill="none" stroke="#5cb0ff" stroke-width="11.4" opacity="0.16" filter="url(#blur1)"/>
<path d="M453.2,638.0 Q533.5,638.3 613.8,620.7" fill="none" stroke="#5a5af8" stroke-width="8.1" opacity="0.30" filter="url(#blur1)"/>
<path d="M453.2,650.3 Q533.5,650.5 613.8,632.9" fill="none" stroke="#5cb0ff" stroke-width="12.2" opacity="0.16" filter="url(#blur1)"/>
<path d="M445.8,675.7 Q532.4,678.4 618.9,662.3" fill="none" stroke="#5a5af8" stroke-width="8.6" opacity="0.30" filter="url(#blur1)"/>
<path d="M445.8,688.6 Q532.4,691.3 618.9,675.2" fill="none" stroke="#5cb0ff" stroke-width="12.9" opacity="0.16" filter="url(#blur1)"/>
<ellipse cx="522.6" cy="761.2" rx="82.7" ry="57.0" fill="url(#domeHL)" clip-path="url(#dclip1)"/>
<g filter="url(#blur1)">
<rect x="434.0" y="718.0" width="9.9" height="117.0" fill="#8a50f0" opacity="0.50"/>
<rect x="438.9" y="718.0" width="3.9" height="117.0" fill="#d040e0" opacity="0.60"/>
<rect x="455.7" y="718.0" width="4.9" height="117.0" fill="#8a58f4" opacity="0.50"/>
<rect x="464.5" y="718.0" width="5.9" height="117.0" fill="#b048ec" opacity="0.55"/>
<rect x="495.1" y="718.0" width="9.9" height="117.0" fill="#8a5af4" opacity="0.45"/>
<rect x="518.7" y="718.0" width="4.9" height="117.0" fill="#c040e4" opacity="0.60"/>
<rect x="547.3" y="718.0" width="7.9" height="117.0" fill="#8a54f4" opacity="0.55"/>
<rect x="598.5" y="718.0" width="4.9" height="117.0" fill="#c040e4" opacity="0.55"/>
<rect x="619.2" y="718.0" width="11.8" height="117.0" fill="#8a50f0" opacity="0.45"/>
<rect x="617.2" y="718.0" width="3.9" height="117.0" fill="#d040e0" opacity="0.60"/>
</g>
<path d="M582.4,648.6 Q581.1,711.3 581.9,774.0" fill="none" stroke="#7a60ff" stroke-width="1.1" opacity="0.43"/>
<path d="M584.1,675.6 Q582.7,754.3 585.8,833.0" fill="none" stroke="#b040e8" stroke-width="1.1" opacity="0.39"/>
<path d="M580.1,514.1 Q580.7,639.3 581.3,764.5" fill="none" stroke="#7a60ff" stroke-width="2.4" opacity="0.58"/>
<path d="M540.3,575.0 Q538.4,672.5 541.3,770.0" fill="none" stroke="#b040e8" stroke-width="1.8" opacity="0.64"/>
<path d="M480.2,665.2 Q477.8,704.3 480.4,743.4" fill="none" stroke="#7a60ff" stroke-width="1.4" opacity="0.50"/>
<path d="M598.6,609.7 Q595.6,721.4 596.2,833.0" fill="none" stroke="#b040e8" stroke-width="1.6" opacity="0.40"/>
<path d="M574.5,677.9 Q571.5,726.2 574.1,774.5" fill="none" stroke="#7a60ff" stroke-width="1.4" opacity="0.59"/>
<path d="M487.4,671.5 Q489.0,707.8 490.2,744.0" fill="none" stroke="#c038e4" stroke-width="2.4" opacity="0.36"/>
<path d="M500.6,515.5 Q497.5,674.3 502.0,833.0" fill="none" stroke="#7a60ff" stroke-width="1.4" opacity="0.39"/>
<path d="M488.3,589.9 Q489.3,711.4 490.2,833.0" fill="none" stroke="#7a60ff" stroke-width="1.7" opacity="0.53"/>
<path d="M491.2,595.7 Q494.1,675.3 489.6,755.0" fill="none" stroke="#b040e8" stroke-width="1.8" opacity="0.57"/>
<path d="M505.0,652.7 Q508.1,698.3 502.8,744.0" fill="none" stroke="#c038e4" stroke-width="4.3" opacity="0.42"/>
<path d="M473.9,635.1 Q471.5,734.1 474.6,833.0" fill="none" stroke="#c038e4" stroke-width="5.0" opacity="0.59"/>
<path d="M577.4,503.1 Q577.4,624.6 578.5,746.1" fill="none" stroke="#8a58f4" stroke-width="2.1" opacity="0.41"/>
<path d="M465.4,497.7 Q465.2,665.4 463.5,833.0" fill="none" stroke="#b040e8" stroke-width="1.8" opacity="0.38"/>
<path d="M500.5,519.1 Q504.1,676.0 500.3,833.0" fill="none" stroke="#c038e4" stroke-width="1.9" opacity="0.58"/>
<path d="M521.5,551.4 Q524.3,652.7 519.6,754.0" fill="none" stroke="#8a54f4" stroke-width="1.0" opacity="0.49"/>
<path d="M483.6,637.8 Q486.0,687.8 484.8,737.9" fill="none" stroke="#8a54f4" stroke-width="1.0" opacity="0.61"/>
<path d="M532.1,614.8 Q530.3,686.5 529.8,758.3" fill="none" stroke="#8a58f4" stroke-width="6.3" opacity="0.57"/>
<rect x="596.7" y="314.6" width="1.3" height="106.4" fill="#c058f0" opacity="0.6"/>
<rect x="600.3" y="348.6" width="1.3" height="76.5" fill="#c058f0" opacity="0.6"/>
<rect x="589.8" y="369.0" width="1.3" height="49.4" fill="#c058f0" opacity="0.6"/>
<rect x="604.0" y="319.6" width="1.3" height="96.0" fill="#c058f0" opacity="0.6"/>
<rect x="634.1" y="302.7" width="1.3" height="102.9" fill="#c058f0" opacity="0.6"/>
<rect x="558.3" y="463.5" width="1.3" height="39.4" fill="#c058f0" opacity="0.6"/>
<rect x="545.8" y="475.2" width="1.3" height="58.3" fill="#c058f0" opacity="0.6"/>
<rect x="584.9" y="363.9" width="1.3" height="49.4" fill="#c058f0" opacity="0.6"/>
<rect x="580.2" y="385.7" width="1.3" height="73.3" fill="#c058f0" opacity="0.6"/>
<rect x="618.3" y="306.5" width="1.3" height="65.6" fill="#c058f0" opacity="0.6"/>
<rect x="606.2" y="305.5" width="1.3" height="43.8" fill="#c058f0" opacity="0.6"/>
<rect x="615.7" y="371.4" width="1.3" height="73.9" fill="#c058f0" opacity="0.6"/>
<rect x="579.7" y="412.4" width="1.3" height="36.5" fill="#c058f0" opacity="0.6"/>
<rect x="614.0" y="337.8" width="1.3" height="61.5" fill="#c058f0" opacity="0.6"/>
<rect x="621.2" y="365.8" width="1.3" height="75.1" fill="#c058f0" opacity="0.6"/>
<rect x="620.7" y="302.5" width="1.3" height="69.3" fill="#c058f0" opacity="0.6"/>
<g opacity="0.34">
<ellipse cx="609.5" cy="296.5" rx="4.9" ry="4.8" fill="#5a50f0" opacity="0.5" filter="url(#blur1)"/>
<ellipse cx="610.0" cy="296.0" rx="4.4" ry="4.5" fill="url(#ringG)" stroke="#3a66e0" stroke-width="0.8" stroke-opacity="0.5"/>
<ellipse cx="609.8" cy="296.1" rx="1.9" ry="2.0" fill="url(#holeG)"/>
</g>
<g opacity="0.38">
<ellipse cx="599.3" cy="310.7" rx="6.0" ry="6.0" fill="#5a50f0" opacity="0.5" filter="url(#blur1)"/>
<ellipse cx="600.0" cy="310.0" rx="5.4" ry="5.6" fill="url(#ringG)" stroke="#3a66e0" stroke-width="0.8" stroke-opacity="0.5"/>
<ellipse cx="599.7" cy="310.1" rx="2.4" ry="2.5" fill="url(#holeG)"/>
</g>
<g opacity="0.41">
<ellipse cx="619.2" cy="322.8" rx="6.7" ry="7.3" fill="#5a50f0" opacity="0.5" filter="url(#blur1)"/>
<ellipse cx="620.0" cy="322.0" rx="6.1" ry="6.7" fill="url(#ringG)" stroke="#3a66e0" stroke-width="0.8" stroke-opacity="0.5"/>
<ellipse cx="619.7" cy="322.1" rx="2.7" ry="3.0" fill="url(#holeG)"/>
</g>
<g opacity="0.45">
<ellipse cx="603.2" cy="334.8" rx="7.3" ry="7.3" fill="#5a50f0" opacity="0.5" filter="url(#blur1)"/>
<ellipse cx="604.0" cy="334.0" rx="6.6" ry="6.7" fill="url(#ringG)" stroke="#3a66e0" stroke-width="0.8" stroke-opacity="0.5"/>
<ellipse cx="603.7" cy="334.1" rx="2.9" ry="3.0" fill="url(#holeG)"/>
<path d="M600.3,330.0 q-1.7,4.0 0.3,7.7" stroke="#c040ec" stroke-width="1.1" fill="none" opacity="0.7"/>
</g>
<g opacity="0.49">
<ellipse cx="615.1" cy="350.9" rx="8.4" ry="8.5" fill="#5a50f0" opacity="0.5" filter="url(#blur1)"/>
<ellipse cx="616.0" cy="350.0" rx="7.6" ry="7.8" fill="url(#ringG)" stroke="#3a66e0" stroke-width="0.8" stroke-opacity="0.5"/>
<ellipse cx="615.6" cy="350.2" rx="3.4" ry="3.5" fill="url(#holeG)"/>
</g>
<g opacity="0.52">
<ellipse cx="592.9" cy="361.1" rx="9.3" ry="9.7" fill="#5a50f0" opacity="0.5" filter="url(#blur1)"/>
<ellipse cx="594.0" cy="360.0" rx="8.4" ry="9.0" fill="url(#ringG)" stroke="#3a66e0" stroke-width="0.8" stroke-opacity="0.5"/>
<ellipse cx="593.6" cy="360.2" rx="3.7" ry="4.0" fill="url(#holeG)"/>
<path d="M589.4,354.6 q-2.1,5.4 0.4,10.3" stroke="#c040ec" stroke-width="1.4" fill="none" opacity="0.7"/>
</g>
<g opacity="0.55">
<ellipse cx="629.2" cy="370.8" rx="5.5" ry="7.3" fill="#5a50f0" opacity="0.5" filter="url(#blur1)"/>
<ellipse cx="630.0" cy="370.0" rx="5.0" ry="6.7" fill="url(#ringG)" stroke="#3a66e0" stroke-width="0.8" stroke-opacity="0.5"/>
<ellipse cx="629.7" cy="370.1" rx="2.2" ry="3.0" fill="url(#holeG)"/>
</g>
<g opacity="0.58">
<ellipse cx="604.8" cy="383.2" rx="10.9" ry="10.9" fill="#5a50f0" opacity="0.5" filter="url(#blur1)"/>
<ellipse cx="606.0" cy="382.0" rx="10.0" ry="10.1" fill="url(#ringG)" stroke="#3a66e0" stroke-width="0.8" stroke-opacity="0.5"/>
<ellipse cx="605.5" cy="382.2" rx="4.4" ry="4.5" fill="url(#holeG)"/>
</g>
<g opacity="0.62">
<ellipse cx="578.7" cy="397.3" rx="11.8" ry="12.1" fill="#5a50f0" opacity="0.5" filter="url(#blur1)"/>
<ellipse cx="580.0" cy="396.0" rx="10.7" ry="11.2" fill="url(#ringG)" stroke="#3a66e0" stroke-width="0.8" stroke-opacity="0.5"/>
<ellipse cx="579.4" cy="396.2" rx="4.7" ry="5.0" fill="url(#holeG)"/>
</g>
<g opacity="0.67">
<ellipse cx="618.8" cy="415.2" rx="8.9" ry="10.9" fill="#5a50f0" opacity="0.5" filter="url(#blur1)"/>
<ellipse cx="620.0" cy="414.0" rx="8.1" ry="10.1" fill="url(#ringG)" stroke="#3a66e0" stroke-width="0.8" stroke-opacity="0.5"/>
<ellipse cx="619.5" cy="414.2" rx="3.5" ry="4.5" fill="url(#holeG)"/>
</g>
<g opacity="0.75">
<ellipse cx="556.5" cy="443.5" rx="12.7" ry="13.3" fill="#5a50f0" opacity="0.5" filter="url(#blur1)"/>
<ellipse cx="558.0" cy="442.0" rx="11.5" ry="12.3" fill="url(#ringG)" stroke="#3a66e0" stroke-width="0.8" stroke-opacity="0.5"/>
<ellipse cx="557.4" cy="442.2" rx="5.1" ry="5.5" fill="url(#holeG)"/>
</g>
<g opacity="0.75">
<ellipse cx="598.7" cy="441.3" rx="11.6" ry="12.1" fill="#5a50f0" opacity="0.5" filter="url(#blur1)"/>
<ellipse cx="600.0" cy="440.0" rx="10.5" ry="11.2" fill="url(#ringG)" stroke="#3a66e0" stroke-width="0.8" stroke-opacity="0.5"/>
<ellipse cx="599.4" cy="440.2" rx="4.6" ry="5.0" fill="url(#holeG)"/>
</g>
<g opacity="0.80">
<ellipse cx="603.7" cy="461.3" rx="10.3" ry="12.1" fill="#5a50f0" opacity="0.5" filter="url(#blur1)"/>
<ellipse cx="605.0" cy="460.0" rx="9.4" ry="11.2" fill="url(#ringG)" stroke="#3a66e0" stroke-width="0.8" stroke-opacity="0.5"/>
<ellipse cx="604.4" cy="460.2" rx="4.1" ry="5.0" fill="url(#holeG)"/>
<path d="M599.8,453.3 q-2.3,6.7 0.5,12.9" stroke="#c040ec" stroke-width="1.8" fill="none" opacity="0.7"/>
</g>
<g opacity="0.84">
<ellipse cx="560.4" cy="476.6" rx="14.8" ry="14.5" fill="#5a50f0" opacity="0.5" filter="url(#blur1)"/>
<ellipse cx="562.0" cy="475.0" rx="13.4" ry="13.4" fill="url(#ringG)" stroke="#3a66e0" stroke-width="0.8" stroke-opacity="0.5"/>
<ellipse cx="561.3" cy="475.3" rx="5.9" ry="6.0" fill="url(#holeG)"/>
<path d="M554.6,466.9 q-3.4,8.1 0.7,15.5" stroke="#c040ec" stroke-width="2.2" fill="none" opacity="0.7"/>
</g>
<g opacity="0.91">
<ellipse cx="518.3" cy="498.7" rx="13.9" ry="15.7" fill="#5a50f0" opacity="0.5" filter="url(#blur1)"/>
<ellipse cx="520.0" cy="497.0" rx="12.6" ry="14.6" fill="url(#ringG)" stroke="#3a66e0" stroke-width="0.8" stroke-opacity="0.5"/>
<ellipse cx="519.3" cy="497.3" rx="5.6" ry="6.6" fill="url(#holeG)"/>
<path d="M513.0,488.3 q-3.2,8.7 0.6,16.7" stroke="#c040ec" stroke-width="2.3" fill="none" opacity="0.7"/>
</g>
<g opacity="0.96">
<ellipse cx="573.3" cy="516.7" rx="15.1" ry="15.7" fill="#5a50f0" opacity="0.5" filter="url(#blur1)"/>
<ellipse cx="575.0" cy="515.0" rx="13.7" ry="14.6" fill="url(#ringG)" stroke="#3a66e0" stroke-width="0.8" stroke-opacity="0.5"/>
<ellipse cx="574.3" cy="515.3" rx="6.0" ry="6.6" fill="url(#holeG)"/>
</g>
<g opacity="0.89">
<ellipse cx="603.8" cy="493.2" rx="8.2" ry="10.9" fill="#5a50f0" opacity="0.5" filter="url(#blur1)"/>
<ellipse cx="605.0" cy="492.0" rx="7.4" ry="10.1" fill="url(#ringG)" stroke="#3a66e0" stroke-width="0.8" stroke-opacity="0.5"/>
<ellipse cx="604.5" cy="492.2" rx="3.3" ry="4.5" fill="url(#holeG)"/>
</g>
<g opacity="1.00">
<ellipse cx="528.3" cy="541.7" rx="15.8" ry="15.7" fill="#5a50f0" opacity="0.5" filter="url(#blur1)"/>
<ellipse cx="530.0" cy="540.0" rx="14.4" ry="14.6" fill="url(#ringG)" stroke="#3a66e0" stroke-width="0.8" stroke-opacity="0.5"/>
<ellipse cx="529.3" cy="540.3" rx="6.3" ry="6.6" fill="url(#holeG)"/>
<path d="M522.1,531.3 q-3.6,8.7 0.7,16.7" stroke="#c040ec" stroke-width="2.3" fill="none" opacity="0.7"/>
</g>
<g opacity="1.00">
<ellipse cx="593.7" cy="553.3" rx="8.5" ry="12.1" fill="#5a50f0" opacity="0.5" filter="url(#blur1)"/>
<ellipse cx="595.0" cy="552.0" rx="7.8" ry="11.2" fill="url(#ringG)" stroke="#3a66e0" stroke-width="0.8" stroke-opacity="0.5"/>
<ellipse cx="594.4" cy="552.2" rx="3.4" ry="5.0" fill="url(#holeG)"/>
</g>
<g opacity="1.00">
<ellipse cx="485.7" cy="581.3" rx="9.8" ry="12.1" fill="#5a50f0" opacity="0.5" filter="url(#blur1)"/>
<ellipse cx="487.0" cy="580.0" rx="8.9" ry="11.2" fill="url(#ringG)" stroke="#3a66e0" stroke-width="0.8" stroke-opacity="0.5"/>
<ellipse cx="486.4" cy="580.2" rx="3.9" ry="5.0" fill="url(#holeG)"/>
</g>
<g opacity="1.00">
<ellipse cx="538.3" cy="586.7" rx="16.0" ry="15.7" fill="#5a50f0" opacity="0.5" filter="url(#blur1)"/>
<ellipse cx="540.0" cy="585.0" rx="14.5" ry="14.6" fill="url(#ringG)" stroke="#3a66e0" stroke-width="0.8" stroke-opacity="0.5"/>
<ellipse cx="539.3" cy="585.3" rx="6.4" ry="6.6" fill="url(#holeG)"/>
</g>
<g opacity="1.00">
<ellipse cx="588.5" cy="591.5" rx="10.1" ry="13.3" fill="#5a50f0" opacity="0.5" filter="url(#blur1)"/>
<ellipse cx="590.0" cy="590.0" rx="9.2" ry="12.3" fill="url(#ringG)" stroke="#3a66e0" stroke-width="0.8" stroke-opacity="0.5"/>
<ellipse cx="589.4" cy="590.2" rx="4.1" ry="5.5" fill="url(#holeG)"/>
<path d="M584.9,582.6 q-2.3,7.4 0.5,14.2" stroke="#c040ec" stroke-width="2.0" fill="none" opacity="0.7"/>
</g>
<g opacity="1.00">
<ellipse cx="510.3" cy="628.7" rx="15.5" ry="15.7" fill="#5a50f0" opacity="0.5" filter="url(#blur1)"/>
<ellipse cx="512.0" cy="627.0" rx="14.1" ry="14.6" fill="url(#ringG)" stroke="#3a66e0" stroke-width="0.8" stroke-opacity="0.5"/>
<ellipse cx="511.3" cy="627.3" rx="6.2" ry="6.6" fill="url(#holeG)"/>
</g>
<g opacity="1.00">
<ellipse cx="570.3" cy="631.7" rx="14.3" ry="15.7" fill="#5a50f0" opacity="0.5" filter="url(#blur1)"/>
<ellipse cx="572.0" cy="630.0" rx="13.0" ry="14.6" fill="url(#ringG)" stroke="#3a66e0" stroke-width="0.8" stroke-opacity="0.5"/>
<ellipse cx="571.3" cy="630.3" rx="5.7" ry="6.6" fill="url(#holeG)"/>
</g>
<g opacity="1.00">
<ellipse cx="600.8" cy="626.2" rx="6.7" ry="10.9" fill="#5a50f0" opacity="0.5" filter="url(#blur1)"/>
<ellipse cx="602.0" cy="625.0" rx="6.1" ry="10.1" fill="url(#ringG)" stroke="#3a66e0" stroke-width="0.8" stroke-opacity="0.5"/>
<ellipse cx="601.5" cy="625.2" rx="2.7" ry="4.5" fill="url(#holeG)"/>
</g>
<g opacity="1.00">
<ellipse cx="480.5" cy="671.5" rx="11.4" ry="13.3" fill="#5a50f0" opacity="0.5" filter="url(#blur1)"/>
<ellipse cx="482.0" cy="670.0" rx="10.4" ry="12.3" fill="url(#ringG)" stroke="#3a66e0" stroke-width="0.8" stroke-opacity="0.5"/>
<ellipse cx="481.4" cy="670.2" rx="4.6" ry="5.5" fill="url(#holeG)"/>
</g>
<g opacity="1.00">
<ellipse cx="548.3" cy="676.7" rx="15.7" ry="15.7" fill="#5a50f0" opacity="0.5" filter="url(#blur1)"/>
<ellipse cx="550.0" cy="675.0" rx="14.3" ry="14.6" fill="url(#ringG)" stroke="#3a66e0" stroke-width="0.8" stroke-opacity="0.5"/>
<ellipse cx="549.3" cy="675.3" rx="6.3" ry="6.6" fill="url(#holeG)"/>
</g>
<g opacity="1.00">
<ellipse cx="593.5" cy="671.5" rx="10.1" ry="13.3" fill="#5a50f0" opacity="0.5" filter="url(#blur1)"/>
<ellipse cx="595.0" cy="670.0" rx="9.2" ry="12.3" fill="url(#ringG)" stroke="#3a66e0" stroke-width="0.8" stroke-opacity="0.5"/>
<ellipse cx="594.4" cy="670.2" rx="4.0" ry="5.5" fill="url(#holeG)"/>
<path d="M589.9,662.6 q-2.3,7.4 0.5,14.2" stroke="#c040ec" stroke-width="2.0" fill="none" opacity="0.7"/>
</g>
<g opacity="1.00">
<ellipse cx="512.4" cy="716.6" rx="14.5" ry="14.5" fill="#5a50f0" opacity="0.5" filter="url(#blur1)"/>
<ellipse cx="514.0" cy="715.0" rx="13.2" ry="13.4" fill="url(#ringG)" stroke="#3a66e0" stroke-width="0.8" stroke-opacity="0.5"/>
<ellipse cx="513.3" cy="715.3" rx="5.8" ry="6.0" fill="url(#holeG)"/>
<path d="M506.8,706.9 q-3.3,8.1 0.7,15.5" stroke="#c040ec" stroke-width="2.2" fill="none" opacity="0.7"/>
</g>
<g opacity="1.00">
<ellipse cx="570.4" cy="718.6" rx="13.2" ry="14.5" fill="#5a50f0" opacity="0.5" filter="url(#blur1)"/>
<ellipse cx="572.0" cy="717.0" rx="12.0" ry="13.4" fill="url(#ringG)" stroke="#3a66e0" stroke-width="0.8" stroke-opacity="0.5"/>
<ellipse cx="571.3" cy="717.3" rx="5.3" ry="6.0" fill="url(#holeG)"/>
<path d="M565.4,708.9 q-3.0,8.1 0.6,15.5" stroke="#c040ec" stroke-width="2.2" fill="none" opacity="0.7"/>
</g>
<g opacity="1.00">
<ellipse cx="458.9" cy="710.1" rx="6.1" ry="9.7" fill="#5a50f0" opacity="0.5" filter="url(#blur1)"/>
<ellipse cx="460.0" cy="709.0" rx="5.5" ry="9.0" fill="url(#ringG)" stroke="#3a66e0" stroke-width="0.8" stroke-opacity="0.5"/>
<ellipse cx="459.6" cy="709.2" rx="2.4" ry="4.0" fill="url(#holeG)"/>
</g>
<g opacity="1.00">
<ellipse cx="598.9" cy="713.1" rx="6.7" ry="9.7" fill="#5a50f0" opacity="0.5" filter="url(#blur1)"/>
<ellipse cx="600.0" cy="712.0" rx="6.1" ry="9.0" fill="url(#ringG)" stroke="#3a66e0" stroke-width="0.8" stroke-opacity="0.5"/>
<ellipse cx="599.6" cy="712.2" rx="2.7" ry="4.0" fill="url(#holeG)"/>
</g>
<g opacity="0.36">
<ellipse cx="621.5" cy="304.5" rx="4.7" ry="5.9" fill="#5a50f0" opacity="0.5" filter="url(#blur1)"/>
<ellipse cx="622.2" cy="303.9" rx="4.3" ry="5.5" fill="url(#ringG)" stroke="#3a66e0" stroke-width="0.8" stroke-opacity="0.5"/>
<ellipse cx="621.9" cy="304.0" rx="1.9" ry="2.5" fill="url(#holeG)"/>
<path d="M619.8,300.6 q-1.1,3.3 0.2,6.3" stroke="#c040ec" stroke-width="1.0" fill="none" opacity="0.7"/>
</g>
</g>
</g>
<g>
<path d="M738.0,873.0 C738.0,892.2 777.2,897.0 836.0,897.0 C894.8,897.0 934.0,892.2 934.0,873.0 C934.0,856.2 894.8,849.0 836.0,849.0 C777.2,849.0 738.0,856.2 738.0,873.0 Z" fill="url(#rimG)"/>
<path d="M763.0,842.0 Q836.0,834.0 906.0,842.0 C910.8,846.4 922.0,856.3 922.0,864.0 Q836.0,890.0 752.0,864.0 C752.0,856.3 759.7,846.4 763.0,842.0 Z" fill="url(#baseG)"/>
<g clip-path="url(#bclip2)">
<g filter="url(#blur06)">
<path d="M747.8,832.0 L771.3,832.0 Q783.1,866.0 802.7,900.0 L775.2,900.0 Q757.6,866.0 747.8,832.0 Z" fill="#9a4cf0" opacity="0.85"/>
<path d="M771.3,832.0 L783.1,832.0 Q790.9,866.0 806.6,900.0 L790.9,900.0 Q777.2,866.0 771.3,832.0 Z" fill="#d040e0" opacity="0.80"/>
<path d="M734.1,832.0 L747.8,832.0 Q748.8,866.0 757.6,900.0 L741.9,900.0 Q734.1,866.0 734.1,832.0 Z" fill="#c040e0" opacity="0.75"/>
<path d="M804.6,832.0 L816.4,832.0 Q821.3,866.0 834.0,900.0 L822.3,900.0 Q809.5,866.0 804.6,832.0 Z" fill="#a048ec" opacity="0.65"/>
<path d="M816.4,832.0 L820.3,832.0 Q826.2,866.0 839.9,900.0 L836.0,900.0 Q822.3,866.0 816.4,832.0 Z" fill="#d040e0" opacity="0.80"/>
<path d="M826.2,832.0 L830.1,832.0 Q838.9,866.0 855.6,900.0 L851.7,900.0 Q835.0,866.0 826.2,832.0 Z" fill="#d040e0" opacity="0.80"/>
<path d="M838.0,832.0 L843.8,832.0 Q851.7,866.0 867.4,900.0 L859.5,900.0 Q844.8,866.0 838.0,832.0 Z" fill="#c840e4" opacity="0.80"/>
<path d="M898.7,832.0 L908.5,832.0 Q911.5,866.0 922.2,900.0 L912.4,900.0 Q901.7,866.0 898.7,832.0 Z" fill="#8a50f0" opacity="0.60"/>
<path d="M757.6,832.0 L765.4,832.0 Q759.6,866.0 761.5,900.0 L747.8,900.0 Q748.8,866.0 757.6,832.0 Z" fill="#8a58f4" opacity="0.45"/>
</g>
<rect x="738.0" y="833.0" width="196.0" height="44.0" fill="url(#fsh2)"/>
<path d="M746.0,866.0 Q836.0,893.0 928.0,866.0" fill="none" stroke="#5cbcff" stroke-width="2.5" opacity="0.45"/>
<path d="M748.0,863.0 Q836.0,888.0 926.0,863.0" fill="none" stroke="#2a5ed6" stroke-width="1.5" opacity="0.55"/>
<path d="M756.0,841.0 Q837.0,849.0 918.0,841.0" fill="none" stroke="#2840b8" stroke-width="6" opacity="0.35" filter="url(#blur1)"/>
</g>
<ellipse cx="882.5" cy="430.7" rx="5.5" ry="6.2" fill="url(#bumpL)"/>
<ellipse cx="880.7" cy="444.2" rx="5.5" ry="6.2" fill="url(#bumpL)"/>
<ellipse cx="875.7" cy="457.6" rx="5.5" ry="6.2" fill="url(#bumpL)"/>
<ellipse cx="913.7" cy="442.4" rx="5.5" ry="6.2" fill="url(#bumpR)"/>
<ellipse cx="869.3" cy="471.5" rx="6.1" ry="6.8" fill="url(#bumpL)"/>
<ellipse cx="914.3" cy="454.5" rx="6.1" ry="6.8" fill="url(#bumpR)"/>
<ellipse cx="862.6" cy="486.4" rx="6.8" ry="7.6" fill="url(#bumpL)"/>
<ellipse cx="913.4" cy="468.3" rx="6.8" ry="7.6" fill="url(#bumpR)"/>
<ellipse cx="856.3" cy="502.8" rx="7.4" ry="8.3" fill="url(#bumpL)"/>
<ellipse cx="911.2" cy="483.8" rx="7.4" ry="8.3" fill="url(#bumpR)"/>
<ellipse cx="847.0" cy="520.5" rx="8.0" ry="8.9" fill="url(#bumpL)"/>
<ellipse cx="908.5" cy="501.1" rx="8.0" ry="8.9" fill="url(#bumpR)"/>
<ellipse cx="835.1" cy="539.9" rx="9.1" ry="10.2" fill="url(#bumpL)"/>
<ellipse cx="905.0" cy="519.3" rx="9.1" ry="10.2" fill="url(#bumpR)"/>
<ellipse cx="824.6" cy="561.5" rx="10.0" ry="11.2" fill="url(#bumpL)"/>
<ellipse cx="899.9" cy="540.5" rx="10.0" ry="11.2" fill="url(#bumpR)"/>
<ellipse cx="812.4" cy="585.0" rx="10.8" ry="12.1" fill="url(#bumpL)"/>
<ellipse cx="892.1" cy="564.3" rx="10.8" ry="12.1" fill="url(#bumpR)"/>
<ellipse cx="802.7" cy="610.4" rx="12.1" ry="13.5" fill="url(#bumpL)"/>
<ellipse cx="889.0" cy="589.8" rx="12.1" ry="13.5" fill="url(#bumpR)"/>
<ellipse cx="795.5" cy="637.9" rx="12.6" ry="14.1" fill="url(#bumpL)"/>
<ellipse cx="883.8" cy="619.2" rx="12.6" ry="14.1" fill="url(#bumpR)"/>
<ellipse cx="791.1" cy="666.5" rx="12.8" ry="14.2" fill="url(#bumpL)"/>
<ellipse cx="881.2" cy="649.9" rx="12.8" ry="14.2" fill="url(#bumpR)"/>
<ellipse cx="785.8" cy="696.2" rx="12.8" ry="14.2" fill="url(#bumpL)"/>
<ellipse cx="882.4" cy="682.2" rx="12.8" ry="14.2" fill="url(#bumpR)"/>
<ellipse cx="782.9" cy="727.6" rx="12.8" ry="14.2" fill="url(#bumpL)"/>
<ellipse cx="885.5" cy="716.5" rx="12.8" ry="14.2" fill="url(#bumpR)"/>
<ellipse cx="884.4" cy="753.4" rx="12.8" ry="14.2" fill="url(#bumpR)"/>
<path d="M778.0,762.0 C765.7,773.4 756.0,796.2 756.0,817.5 L757.0,838.0 Q837.0,846.0 917.0,836.0 L918.0,817.5 C918.0,796.2 906.6,773.4 892.0,762.0 Z" fill="#2a90ff"/>
<path d="M885.0,400.0 C882.5,401.8 881.2,405.7 880.0,409.0 C878.8,412.3 878.4,414.8 878.0,420.0 C877.6,425.2 877.5,435.0 877.4,440.0 C877.2,445.0 878.1,445.0 876.9,450.0 C875.7,455.0 873.0,463.3 870.4,470.0 C867.8,476.7 864.0,483.3 861.3,490.0 C858.5,496.7 856.7,504.2 853.9,510.0 C851.1,515.8 847.7,520.0 844.4,525.0 C841.1,530.0 837.4,535.0 834.4,540.0 C831.4,545.0 829.1,550.0 826.4,555.0 C823.7,560.0 821.9,563.7 818.4,570.0 C814.9,576.3 808.7,586.0 805.4,593.0 C802.1,600.0 800.6,605.3 798.4,612.0 C796.2,618.7 794.1,626.7 792.4,633.0 C790.7,639.3 789.4,643.8 788.4,650.0 C787.4,656.2 787.4,663.3 786.4,670.0 C785.4,676.7 783.6,683.3 782.4,690.0 C781.2,696.7 780.2,703.3 779.4,710.0 C778.6,716.7 778.4,723.8 777.7,730.0 C776.9,736.2 774.8,741.7 774.9,747.0 C775.1,752.3 777.7,757.5 778.5,762.0 C779.4,766.5 761.4,772.0 780.0,774.0 C798.6,776.0 871.4,776.0 890.0,774.0 C908.6,772.0 890.6,767.2 891.5,762.0 C892.4,756.8 895.7,751.0 895.4,743.0 C895.1,735.0 891.2,726.2 889.6,714.0 C888.0,701.8 886.3,682.8 885.6,670.0 C884.9,657.2 885.1,646.2 885.6,637.0 C886.1,627.8 887.4,622.3 888.6,615.0 C889.8,607.7 891.8,601.0 892.6,593.0 C893.4,585.0 892.4,574.2 893.6,567.0 C894.8,559.8 897.6,557.8 899.6,550.0 C901.6,542.2 903.7,530.0 905.6,520.0 C907.5,510.0 909.0,500.0 910.7,490.0 C912.5,480.0 914.9,468.3 916.1,460.0 C917.3,451.7 918.3,448.2 917.6,440.0 C917.0,431.8 913.3,416.8 912.0,411.0 C910.7,405.2 911.3,407.2 910.0,405.0 C908.7,402.8 906.5,399.2 904.0,398.0 C901.5,396.8 898.2,397.7 895.0,398.0 C891.8,398.3 887.5,398.2 885.0,400.0 Z" fill="#2a92ff"/>
<g clip-path="url(#clip2)">
<path d="M885.0,400.0 C882.5,401.8 881.2,405.7 880.0,409.0 C878.8,412.3 878.4,414.8 878.0,420.0 C877.6,425.2 877.5,435.0 877.4,440.0 C877.2,445.0 878.1,445.0 876.9,450.0 C875.7,455.0 873.0,463.3 870.4,470.0 C867.8,476.7 864.0,483.3 861.3,490.0 C858.5,496.7 856.7,504.2 853.9,510.0 C851.1,515.8 847.7,520.0 844.4,525.0 C841.1,530.0 837.4,535.0 834.4,540.0 C831.4,545.0 829.1,550.0 826.4,555.0 C823.7,560.0 821.9,563.7 818.4,570.0 C814.9,576.3 808.7,586.0 805.4,593.0 C802.1,600.0 800.6,605.3 798.4,612.0 C796.2,618.7 794.1,626.7 792.4,633.0 C790.7,639.3 789.4,643.8 788.4,650.0 C787.4,656.2 787.4,663.3 786.4,670.0 C785.4,676.7 783.6,683.3 782.4,690.0 C781.2,696.7 780.2,703.3 779.4,710.0 C778.6,716.7 778.4,723.8 777.7,730.0 C776.9,736.2 774.8,741.7 774.9,747.0 C775.1,752.3 777.7,757.5 778.5,762.0 C779.4,766.5 761.4,772.0 780.0,774.0 C798.6,776.0 871.4,776.0 890.0,774.0 C908.6,772.0 890.6,767.2 891.5,762.0 C892.4,756.8 895.7,751.0 895.4,743.0 C895.1,735.0 891.2,726.2 889.6,714.0 C888.0,701.8 886.3,682.8 885.6,670.0 C884.9,657.2 885.1,646.2 885.6,637.0 C886.1,627.8 887.4,622.3 888.6,615.0 C889.8,607.7 891.8,601.0 892.6,593.0 C893.4,585.0 892.4,574.2 893.6,567.0 C894.8,559.8 897.6,557.8 899.6,550.0 C901.6,542.2 903.7,530.0 905.6,520.0 C907.5,510.0 909.0,500.0 910.7,490.0 C912.5,480.0 914.9,468.3 916.1,460.0 C917.3,451.7 918.3,448.2 917.6,440.0 C917.0,431.8 913.3,416.8 912.0,411.0 C910.7,405.2 911.3,407.2 910.0,405.0 C908.7,402.8 906.5,399.2 904.0,398.0 C901.5,396.8 898.2,397.7 895.0,398.0 C891.8,398.3 887.5,398.2 885.0,400.0 Z" fill="none" stroke="#6a5cff" stroke-width="10" opacity="0.35" filter="url(#blur3)"/>
<path d="M888.0,400.0 L883.0,409.0 L881.0,420.0 L879.0,440.0 L877.0,450.0 L867.0,470.0 L857.0,490.0 L849.0,510.0 L839.0,525.0 L829.0,540.0 L821.0,555.0 L813.0,570.0 L800.0,593.0 L793.0,612.0 L787.0,633.0 L783.0,650.0 L781.0,670.0 L777.0,690.0 L774.0,710.0 L773.0,730.0 L773.0,747.0 L779.0,762.0" fill="none" stroke="url(#lcg2)" stroke-width="22" filter="url(#blur3)"/>
<path d="M901.0,398.0 L907.0,405.0 L909.0,411.0 L916.0,440.0 L918.0,460.0 L915.0,490.0 L911.0,520.0 L905.0,550.0 L899.0,567.0 L898.0,593.0 L894.0,615.0 L891.0,637.0 L891.0,670.0 L895.0,714.0 L898.0,743.0 L891.0,762.0" fill="none" stroke="#7a54f4" stroke-width="18" opacity="0.25" filter="url(#blur3)"/>
<path d="M778.0,762.0 C765.7,773.4 756.0,796.2 756.0,817.5 L757.0,838.0 Q837.0,846.0 917.0,836.0 L918.0,817.5 C918.0,796.2 906.6,773.4 892.0,762.0 Z" fill="none" stroke="#7a58f8" stroke-width="12" opacity="0.3" filter="url(#blur3)"/>
<rect x="0" y="0" width="1000" height="1000" fill="url(#ug2)"/>
<rect x="0" y="0" width="1000" height="1000" fill="url(#lg2)"/>
<rect x="756" y="762" width="162" height="84" fill="#000" filter="url(#speck)" clip-path="url(#dclip2)" opacity="0.08"/>
<path d="M756.0,764.0 Q837.0,772.0 918.0,764.0" fill="none" stroke="#5a50f0" stroke-width="4" opacity="0.25" filter="url(#blur2)"/>
<path d="M870.5,426.6 Q896.0,420.4 921.6,408.4" fill="none" stroke="#5a5af8" stroke-width="2.6" opacity="0.12" filter="url(#blur1)"/>
<path d="M870.5,430.5 Q896.0,424.3 921.6,412.3" fill="none" stroke="#5cb0ff" stroke-width="3.9" opacity="0.16" filter="url(#blur1)"/>
<path d="M869.0,440.1 Q896.8,433.4 924.7,420.9" fill="none" stroke="#5a5af8" stroke-width="2.6" opacity="0.14" filter="url(#blur1)"/>
<path d="M869.0,444.0 Q896.8,437.3 924.7,424.8" fill="none" stroke="#5cb0ff" stroke-width="3.9" opacity="0.16" filter="url(#blur1)"/>
<path d="M867.3,453.5 Q897.3,446.4 927.4,433.5" fill="none" stroke="#5a5af8" stroke-width="2.6" opacity="0.16" filter="url(#blur1)"/>
<path d="M867.3,457.4 Q897.3,450.3 927.4,437.4" fill="none" stroke="#5cb0ff" stroke-width="3.9" opacity="0.16" filter="url(#blur1)"/>
<path d="M863.1,466.3 Q895.8,459.0 928.6,445.3" fill="none" stroke="#5a5af8" stroke-width="2.9" opacity="0.17" filter="url(#blur1)"/>
<path d="M863.1,470.6 Q895.8,463.3 928.6,449.6" fill="none" stroke="#5cb0ff" stroke-width="4.3" opacity="0.16" filter="url(#blur1)"/>
<path d="M856.3,480.4 Q892.2,472.9 928.1,458.4" fill="none" stroke="#5a5af8" stroke-width="3.2" opacity="0.19" filter="url(#blur1)"/>
<path d="M856.3,485.2 Q892.2,477.7 928.1,463.2" fill="none" stroke="#5cb0ff" stroke-width="4.8" opacity="0.16" filter="url(#blur1)"/>
<path d="M848.7,495.9 Q887.6,488.4 926.5,473.1" fill="none" stroke="#5a5af8" stroke-width="3.5" opacity="0.22" filter="url(#blur1)"/>
<path d="M848.7,501.2 Q887.6,493.6 926.5,478.4" fill="none" stroke="#5cb0ff" stroke-width="5.3" opacity="0.16" filter="url(#blur1)"/>
<path d="M841.4,512.9 Q883.0,505.5 924.5,489.9" fill="none" stroke="#5a5af8" stroke-width="3.8" opacity="0.24" filter="url(#blur1)"/>
<path d="M841.4,518.5 Q883.0,511.2 924.5,495.5" fill="none" stroke="#5cb0ff" stroke-width="5.7" opacity="0.16" filter="url(#blur1)"/>
<path d="M832.0,530.7 Q877.1,523.6 922.1,507.2" fill="none" stroke="#5a5af8" stroke-width="4.3" opacity="0.27" filter="url(#blur1)"/>
<path d="M832.0,537.1 Q877.1,530.1 922.1,513.6" fill="none" stroke="#5cb0ff" stroke-width="6.4" opacity="0.16" filter="url(#blur1)"/>
<path d="M818.5,551.2 Q868.4,544.4 918.2,527.2" fill="none" stroke="#5a5af8" stroke-width="4.7" opacity="0.29" filter="url(#blur1)"/>
<path d="M818.5,558.3 Q868.4,551.5 918.2,534.3" fill="none" stroke="#5cb0ff" stroke-width="7.1" opacity="0.16" filter="url(#blur1)"/>
<path d="M806.3,573.5 Q859.1,567.5 911.8,550.3" fill="none" stroke="#5a5af8" stroke-width="5.1" opacity="0.30" filter="url(#blur1)"/>
<path d="M806.3,581.1 Q859.1,575.1 911.8,558.0" fill="none" stroke="#5cb0ff" stroke-width="7.6" opacity="0.16" filter="url(#blur1)"/>
<path d="M793.0,597.3 Q851.1,592.1 909.3,574.5" fill="none" stroke="#5a5af8" stroke-width="5.7" opacity="0.30" filter="url(#blur1)"/>
<path d="M793.0,605.8 Q851.1,600.7 909.3,583.0" fill="none" stroke="#5cb0ff" stroke-width="8.5" opacity="0.16" filter="url(#blur1)"/>
<path d="M781.5,624.3 Q843.4,620.2 905.2,603.1" fill="none" stroke="#5a5af8" stroke-width="5.9" opacity="0.30" filter="url(#blur1)"/>
<path d="M781.5,633.2 Q843.4,629.1 905.2,612.0" fill="none" stroke="#5cb0ff" stroke-width="8.9" opacity="0.16" filter="url(#blur1)"/>
<path d="M773.7,651.9 Q837.9,649.5 902.0,633.5" fill="none" stroke="#5a5af8" stroke-width="6.2" opacity="0.30" filter="url(#blur1)"/>
<path d="M773.7,661.2 Q837.9,658.8 902.0,642.8" fill="none" stroke="#5cb0ff" stroke-width="9.3" opacity="0.16" filter="url(#blur1)"/>
<path d="M769.4,680.5 Q835.8,680.0 902.3,665.1" fill="none" stroke="#5a5af8" stroke-width="6.6" opacity="0.30" filter="url(#blur1)"/>
<path d="M769.4,690.3 Q835.8,689.9 902.3,675.0" fill="none" stroke="#5cb0ff" stroke-width="9.8" opacity="0.16" filter="url(#blur1)"/>
<path d="M763.8,710.8 Q834.5,712.3 905.2,698.6" fill="none" stroke="#5a5af8" stroke-width="6.9" opacity="0.30" filter="url(#blur1)"/>
<path d="M763.8,721.2 Q834.5,722.7 905.2,709.0" fill="none" stroke="#5cb0ff" stroke-width="10.4" opacity="0.16" filter="url(#blur1)"/>
<path d="M762.0,744.3 Q835.4,747.5 908.7,736.2" fill="none" stroke="#5a5af8" stroke-width="6.6" opacity="0.30" filter="url(#blur1)"/>
<path d="M762.0,754.1 Q835.4,757.4 908.7,746.1" fill="none" stroke="#5cb0ff" stroke-width="9.9" opacity="0.16" filter="url(#blur1)"/>
<ellipse cx="828.9" cy="788.6" rx="68.0" ry="45.6" fill="url(#domeHL)" clip-path="url(#dclip2)"/>
<g filter="url(#blur1)">
<rect x="756.0" y="752.0" width="8.1" height="96.0" fill="#8a50f0" opacity="0.50"/>
<rect x="760.0" y="752.0" width="3.2" height="96.0" fill="#d040e0" opacity="0.60"/>
<rect x="773.8" y="752.0" width="4.0" height="96.0" fill="#8a58f4" opacity="0.50"/>
<rect x="781.1" y="752.0" width="4.9" height="96.0" fill="#b048ec" opacity="0.55"/>
<rect x="806.2" y="752.0" width="8.1" height="96.0" fill="#8a5af4" opacity="0.45"/>
<rect x="825.7" y="752.0" width="4.0" height="96.0" fill="#c040e4" opacity="0.60"/>
<rect x="849.1" y="752.0" width="6.5" height="96.0" fill="#8a54f4" opacity="0.55"/>
<rect x="891.3" y="752.0" width="4.0" height="96.0" fill="#c040e4" opacity="0.55"/>
<rect x="908.3" y="752.0" width="9.7" height="96.0" fill="#8a50f0" opacity="0.45"/>
<rect x="906.7" y="752.0" width="3.2" height="96.0" fill="#d040e0" opacity="0.60"/>
</g>
<path d="M860.9,698.1 Q861.0,772.0 863.5,846.0" fill="none" stroke="#8a54f4" stroke-width="2.1" opacity="0.57"/>
<path d="M847.2,641.6 Q844.2,718.1 849.4,794.7" fill="none" stroke="#7a60ff" stroke-width="1.9" opacity="0.46"/>
<path d="M825.2,587.8 Q824.1,677.7 826.7,767.6" fill="none" stroke="#7a60ff" stroke-width="2.0" opacity="0.59"/>
<path d="M791.2,584.7 Q793.5,715.4 792.0,846.0" fill="none" stroke="#8a58f4" stroke-width="1.8" opacity="0.46"/>
<path d="M845.8,607.8 Q849.4,696.2 845.8,784.6" fill="none" stroke="#c038e4" stroke-width="2.1" opacity="0.55"/>
<path d="M777.1,594.9 Q773.9,691.0 777.4,787.1" fill="none" stroke="#8a54f4" stroke-width="1.0" opacity="0.37"/>
<path d="M850.5,576.1 Q849.2,680.1 850.4,784.0" fill="none" stroke="#c038e4" stroke-width="1.7" opacity="0.39"/>
<path d="M873.0,710.4 Q872.4,745.2 871.5,779.9" fill="none" stroke="#7a60ff" stroke-width="6.2" opacity="0.59"/>
<path d="M814.4,624.5 Q813.8,713.1 813.6,801.6" fill="none" stroke="#c038e4" stroke-width="2.1" opacity="0.38"/>
<path d="M785.8,711.4 Q784.2,778.7 787.4,846.0" fill="none" stroke="#7a60ff" stroke-width="1.7" opacity="0.37"/>
<path d="M811.8,597.8 Q814.9,681.6 810.2,765.3" fill="none" stroke="#8a58f4" stroke-width="2.0" opacity="0.55"/>
<path d="M828.0,617.4 Q827.5,696.1 829.9,774.9" fill="none" stroke="#8a58f4" stroke-width="2.4" opacity="0.44"/>
<path d="M881.6,615.7 Q877.8,707.6 882.6,799.4" fill="none" stroke="#8a58f4" stroke-width="1.5" opacity="0.53"/>
<path d="M822.0,697.8 Q819.5,737.3 823.6,776.7" fill="none" stroke="#c038e4" stroke-width="1.9" opacity="0.61"/>
<path d="M836.8,609.5 Q838.1,727.8 838.7,846.0" fill="none" stroke="#8a54f4" stroke-width="1.9" opacity="0.37"/>
<path d="M785.6,655.1 Q781.8,710.2 786.6,765.4" fill="none" stroke="#8a54f4" stroke-width="2.3" opacity="0.38"/>
<rect x="883.8" y="531.1" width="1.3" height="55.4" fill="#c058f0" opacity="0.6"/>
<rect x="878.1" y="477.3" width="1.3" height="85.5" fill="#c058f0" opacity="0.6"/>
<rect x="905.4" y="472.4" width="1.3" height="50.9" fill="#c058f0" opacity="0.6"/>
<rect x="898.4" y="451.7" width="1.3" height="37.7" fill="#c058f0" opacity="0.6"/>
<rect x="883.1" y="529.2" width="1.3" height="33.7" fill="#c058f0" opacity="0.6"/>
<rect x="916.7" y="404.6" width="1.3" height="76.2" fill="#c058f0" opacity="0.6"/>
<rect x="894.8" y="454.4" width="1.3" height="29.4" fill="#c058f0" opacity="0.6"/>
<rect x="904.0" y="411.7" width="1.3" height="58.0" fill="#c058f0" opacity="0.6"/>
<rect x="889.1" y="401.0" width="1.3" height="51.7" fill="#c058f0" opacity="0.6"/>
<rect x="915.5" y="415.1" width="1.3" height="86.5" fill="#c058f0" opacity="0.6"/>
<rect x="906.3" y="437.4" width="1.3" height="39.3" fill="#c058f0" opacity="0.6"/>
<rect x="874.9" y="509.4" width="1.3" height="49.1" fill="#c058f0" opacity="0.6"/>
<rect x="907.2" y="483.9" width="1.3" height="46.2" fill="#c058f0" opacity="0.6"/>
<rect x="879.8" y="474.4" width="1.3" height="74.5" fill="#c058f0" opacity="0.6"/>
<rect x="914.6" y="422.5" width="1.3" height="86.3" fill="#c058f0" opacity="0.6"/>
<rect x="879.1" y="520.7" width="1.3" height="30.3" fill="#c058f0" opacity="0.6"/>
<g opacity="0.34">
<ellipse cx="899.5" cy="408.5" rx="4.8" ry="4.8" fill="#5a50f0" opacity="0.5" filter="url(#blur1)"/>
<ellipse cx="900.0" cy="408.0" rx="4.4" ry="4.5" fill="url(#ringG)" stroke="#3a66e0" stroke-width="0.8" stroke-opacity="0.5"/>
<ellipse cx="899.8" cy="408.1" rx="1.9" ry="2.0" fill="url(#holeG)"/>
</g>
<g opacity="0.37">
<ellipse cx="891.5" cy="418.5" rx="4.8" ry="4.8" fill="#5a50f0" opacity="0.5" filter="url(#blur1)"/>
<ellipse cx="892.0" cy="418.0" rx="4.4" ry="4.5" fill="url(#ringG)" stroke="#3a66e0" stroke-width="0.8" stroke-opacity="0.5"/>
<ellipse cx="891.8" cy="418.1" rx="1.9" ry="2.0" fill="url(#holeG)"/>
<path d="M889.6,415.3 q-1.1,2.7 0.2,5.2" stroke="#c040ec" stroke-width="1.0" fill="none" opacity="0.7"/>
</g>
<g opacity="0.41">
<ellipse cx="903.3" cy="430.7" rx="5.9" ry="6.0" fill="#5a50f0" opacity="0.5" filter="url(#blur1)"/>
<ellipse cx="904.0" cy="430.0" rx="5.3" ry="5.6" fill="url(#ringG)" stroke="#3a66e0" stroke-width="0.8" stroke-opacity="0.5"/>
<ellipse cx="903.7" cy="430.1" rx="2.3" ry="2.5" fill="url(#holeG)"/>
<path d="M901.1,426.6 q-1.3,3.4 0.3,6.4" stroke="#c040ec" stroke-width="1.0" fill="none" opacity="0.7"/>
</g>
<g opacity="0.45">
<ellipse cx="893.3" cy="440.7" rx="6.1" ry="6.0" fill="#5a50f0" opacity="0.5" filter="url(#blur1)"/>
<ellipse cx="894.0" cy="440.0" rx="5.5" ry="5.6" fill="url(#ringG)" stroke="#3a66e0" stroke-width="0.8" stroke-opacity="0.5"/>
<ellipse cx="893.7" cy="440.1" rx="2.4" ry="2.5" fill="url(#holeG)"/>
<path d="M890.9,436.6 q-1.4,3.4 0.3,6.4" stroke="#c040ec" stroke-width="1.0" fill="none" opacity="0.7"/>
</g>
<g opacity="0.49">
<ellipse cx="903.2" cy="452.8" rx="7.1" ry="7.3" fill="#5a50f0" opacity="0.5" filter="url(#blur1)"/>
<ellipse cx="904.0" cy="452.0" rx="6.5" ry="6.7" fill="url(#ringG)" stroke="#3a66e0" stroke-width="0.8" stroke-opacity="0.5"/>
<ellipse cx="903.7" cy="452.1" rx="2.9" ry="3.0" fill="url(#holeG)"/>
</g>
<g opacity="0.52">
<ellipse cx="887.2" cy="460.8" rx="7.2" ry="7.3" fill="#5a50f0" opacity="0.5" filter="url(#blur1)"/>
<ellipse cx="888.0" cy="460.0" rx="6.5" ry="6.7" fill="url(#ringG)" stroke="#3a66e0" stroke-width="0.8" stroke-opacity="0.5"/>
<ellipse cx="887.7" cy="460.1" rx="2.9" ry="3.0" fill="url(#holeG)"/>
</g>
<g opacity="0.55">
<ellipse cx="913.3" cy="468.7" rx="4.7" ry="6.0" fill="#5a50f0" opacity="0.5" filter="url(#blur1)"/>
<ellipse cx="914.0" cy="468.0" rx="4.3" ry="5.6" fill="url(#ringG)" stroke="#3a66e0" stroke-width="0.8" stroke-opacity="0.5"/>
<ellipse cx="913.7" cy="468.1" rx="1.9" ry="2.5" fill="url(#holeG)"/>
</g>
<g opacity="0.58">
<ellipse cx="895.1" cy="478.9" rx="8.5" ry="8.5" fill="#5a50f0" opacity="0.5" filter="url(#blur1)"/>
<ellipse cx="896.0" cy="478.0" rx="7.7" ry="7.8" fill="url(#ringG)" stroke="#3a66e0" stroke-width="0.8" stroke-opacity="0.5"/>
<ellipse cx="895.6" cy="478.2" rx="3.4" ry="3.5" fill="url(#holeG)"/>
</g>
<g opacity="0.61">
<ellipse cx="874.9" cy="489.1" rx="9.5" ry="9.7" fill="#5a50f0" opacity="0.5" filter="url(#blur1)"/>
<ellipse cx="876.0" cy="488.0" rx="8.6" ry="9.0" fill="url(#ringG)" stroke="#3a66e0" stroke-width="0.8" stroke-opacity="0.5"/>
<ellipse cx="875.6" cy="488.2" rx="3.8" ry="4.0" fill="url(#holeG)"/>
</g>
<g opacity="0.67">
<ellipse cx="905.1" cy="504.9" rx="7.0" ry="8.5" fill="#5a50f0" opacity="0.5" filter="url(#blur1)"/>
<ellipse cx="906.0" cy="504.0" rx="6.4" ry="7.8" fill="url(#ringG)" stroke="#3a66e0" stroke-width="0.8" stroke-opacity="0.5"/>
<ellipse cx="905.6" cy="504.2" rx="2.8" ry="3.5" fill="url(#holeG)"/>
</g>
<g opacity="0.72">
<ellipse cx="860.9" cy="521.1" rx="9.3" ry="9.7" fill="#5a50f0" opacity="0.5" filter="url(#blur1)"/>
<ellipse cx="862.0" cy="520.0" rx="8.5" ry="9.0" fill="url(#ringG)" stroke="#3a66e0" stroke-width="0.8" stroke-opacity="0.5"/>
<ellipse cx="861.6" cy="520.2" rx="3.7" ry="4.0" fill="url(#holeG)"/>
</g>
<g opacity="0.79">
<ellipse cx="892.9" cy="541.1" rx="8.4" ry="9.7" fill="#5a50f0" opacity="0.5" filter="url(#blur1)"/>
<ellipse cx="894.0" cy="540.0" rx="7.7" ry="9.0" fill="url(#ringG)" stroke="#3a66e0" stroke-width="0.8" stroke-opacity="0.5"/>
<ellipse cx="893.6" cy="540.2" rx="3.4" ry="4.0" fill="url(#holeG)"/>
</g>
<g opacity="0.81">
<ellipse cx="834.9" cy="545.1" rx="7.9" ry="9.7" fill="#5a50f0" opacity="0.5" filter="url(#blur1)"/>
<ellipse cx="836.0" cy="544.0" rx="7.2" ry="9.0" fill="url(#ringG)" stroke="#3a66e0" stroke-width="0.8" stroke-opacity="0.5"/>
<ellipse cx="835.6" cy="544.2" rx="3.2" ry="4.0" fill="url(#holeG)"/>
</g>
<g opacity="0.85">
<ellipse cx="858.8" cy="557.2" rx="11.1" ry="10.9" fill="#5a50f0" opacity="0.5" filter="url(#blur1)"/>
<ellipse cx="860.0" cy="556.0" rx="10.1" ry="10.1" fill="url(#ringG)" stroke="#3a66e0" stroke-width="0.8" stroke-opacity="0.5"/>
<ellipse cx="859.5" cy="556.2" rx="4.4" ry="4.5" fill="url(#holeG)"/>
</g>
<g opacity="0.89">
<ellipse cx="824.9" cy="569.1" rx="8.2" ry="9.7" fill="#5a50f0" opacity="0.5" filter="url(#blur1)"/>
<ellipse cx="826.0" cy="568.0" rx="7.4" ry="9.0" fill="url(#ringG)" stroke="#3a66e0" stroke-width="0.8" stroke-opacity="0.5"/>
<ellipse cx="825.6" cy="568.2" rx="3.3" ry="4.0" fill="url(#holeG)"/>
</g>
<g opacity="0.88">
<ellipse cx="894.9" cy="565.1" rx="7.0" ry="9.7" fill="#5a50f0" opacity="0.5" filter="url(#blur1)"/>
<ellipse cx="896.0" cy="564.0" rx="6.4" ry="9.0" fill="url(#ringG)" stroke="#3a66e0" stroke-width="0.8" stroke-opacity="0.5"/>
<ellipse cx="895.6" cy="564.2" rx="2.8" ry="4.0" fill="url(#holeG)"/>
</g>
<g opacity="0.90">
<ellipse cx="826.7" cy="572.3" rx="10.7" ry="12.1" fill="#5a50f0" opacity="0.5" filter="url(#blur1)"/>
<ellipse cx="828.0" cy="571.0" rx="9.7" ry="11.2" fill="url(#ringG)" stroke="#3a66e0" stroke-width="0.8" stroke-opacity="0.5"/>
<ellipse cx="827.4" cy="571.2" rx="4.3" ry="5.0" fill="url(#holeG)"/>
</g>
<g opacity="0.95">
<ellipse cx="870.7" cy="585.3" rx="11.6" ry="12.1" fill="#5a50f0" opacity="0.5" filter="url(#blur1)"/>
<ellipse cx="872.0" cy="584.0" rx="10.5" ry="11.2" fill="url(#ringG)" stroke="#3a66e0" stroke-width="0.8" stroke-opacity="0.5"/>
<ellipse cx="871.4" cy="584.2" rx="4.6" ry="5.0" fill="url(#holeG)"/>
</g>
<g opacity="0.89">
<ellipse cx="893.1" cy="567.9" rx="6.3" ry="8.5" fill="#5a50f0" opacity="0.5" filter="url(#blur1)"/>
<ellipse cx="894.0" cy="567.0" rx="5.7" ry="7.8" fill="url(#ringG)" stroke="#3a66e0" stroke-width="0.8" stroke-opacity="0.5"/>
<ellipse cx="893.6" cy="567.2" rx="2.5" ry="3.5" fill="url(#holeG)"/>
</g>
<g opacity="1.00">
<ellipse cx="830.7" cy="609.3" rx="12.1" ry="12.1" fill="#5a50f0" opacity="0.5" filter="url(#blur1)"/>
<ellipse cx="832.0" cy="608.0" rx="11.0" ry="11.2" fill="url(#ringG)" stroke="#3a66e0" stroke-width="0.8" stroke-opacity="0.5"/>
<ellipse cx="831.4" cy="608.2" rx="4.8" ry="5.0" fill="url(#holeG)"/>
</g>
<g opacity="1.00">
<ellipse cx="797.9" cy="603.1" rx="6.5" ry="9.7" fill="#5a50f0" opacity="0.5" filter="url(#blur1)"/>
<ellipse cx="799.0" cy="602.0" rx="5.9" ry="9.0" fill="url(#ringG)" stroke="#3a66e0" stroke-width="0.8" stroke-opacity="0.5"/>
<ellipse cx="798.6" cy="602.2" rx="2.6" ry="4.0" fill="url(#holeG)"/>
</g>
<g opacity="1.00">
<ellipse cx="883.8" cy="616.2" rx="8.4" ry="10.9" fill="#5a50f0" opacity="0.5" filter="url(#blur1)"/>
<ellipse cx="885.0" cy="615.0" rx="7.7" ry="10.1" fill="url(#ringG)" stroke="#3a66e0" stroke-width="0.8" stroke-opacity="0.5"/>
<ellipse cx="884.5" cy="615.2" rx="3.4" ry="4.5" fill="url(#holeG)"/>
</g>
<g opacity="1.00">
<ellipse cx="839.7" cy="645.3" rx="12.3" ry="12.1" fill="#5a50f0" opacity="0.5" filter="url(#blur1)"/>
<ellipse cx="841.0" cy="644.0" rx="11.2" ry="11.2" fill="url(#ringG)" stroke="#3a66e0" stroke-width="0.8" stroke-opacity="0.5"/>
<ellipse cx="840.4" cy="644.2" rx="4.9" ry="5.0" fill="url(#holeG)"/>
<path d="M834.8,637.3 q-2.8,6.7 0.6,12.9" stroke="#c040ec" stroke-width="1.8" fill="none" opacity="0.7"/>
</g>
<g opacity="1.00">
<ellipse cx="879.7" cy="649.3" rx="9.4" ry="12.1" fill="#5a50f0" opacity="0.5" filter="url(#blur1)"/>
<ellipse cx="881.0" cy="648.0" rx="8.6" ry="11.2" fill="url(#ringG)" stroke="#3a66e0" stroke-width="0.8" stroke-opacity="0.5"/>
<ellipse cx="880.4" cy="648.2" rx="3.8" ry="5.0" fill="url(#holeG)"/>
</g>
<g opacity="1.00">
<ellipse cx="795.9" cy="634.1" rx="7.6" ry="9.7" fill="#5a50f0" opacity="0.5" filter="url(#blur1)"/>
<ellipse cx="797.0" cy="633.0" rx="6.9" ry="9.0" fill="url(#ringG)" stroke="#3a66e0" stroke-width="0.8" stroke-opacity="0.5"/>
<ellipse cx="796.6" cy="633.2" rx="3.0" ry="4.0" fill="url(#holeG)"/>
<path d="M793.2,627.6 q-1.7,5.4 0.3,10.3" stroke="#c040ec" stroke-width="1.4" fill="none" opacity="0.7"/>
</g>
<g opacity="1.00">
<ellipse cx="866.7" cy="684.3" rx="11.0" ry="12.1" fill="#5a50f0" opacity="0.5" filter="url(#blur1)"/>
<ellipse cx="868.0" cy="683.0" rx="10.0" ry="11.2" fill="url(#ringG)" stroke="#3a66e0" stroke-width="0.8" stroke-opacity="0.5"/>
<ellipse cx="867.4" cy="683.2" rx="4.4" ry="5.0" fill="url(#holeG)"/>
<path d="M862.5,676.3 q-2.5,6.7 0.5,12.9" stroke="#c040ec" stroke-width="1.8" fill="none" opacity="0.7"/>
</g>
<g opacity="1.00">
<ellipse cx="804.7" cy="680.3" rx="11.2" ry="12.1" fill="#5a50f0" opacity="0.5" filter="url(#blur1)"/>
<ellipse cx="806.0" cy="679.0" rx="10.2" ry="11.2" fill="url(#ringG)" stroke="#3a66e0" stroke-width="0.8" stroke-opacity="0.5"/>
<ellipse cx="805.4" cy="679.2" rx="4.5" ry="5.0" fill="url(#holeG)"/>
<path d="M800.4,672.3 q-2.5,6.7 0.5,12.9" stroke="#c040ec" stroke-width="1.8" fill="none" opacity="0.7"/>
</g>
<g opacity="1.00">
<ellipse cx="795.7" cy="713.3" rx="10.7" ry="12.1" fill="#5a50f0" opacity="0.5" filter="url(#blur1)"/>
<ellipse cx="797.0" cy="712.0" rx="9.7" ry="11.2" fill="url(#ringG)" stroke="#3a66e0" stroke-width="0.8" stroke-opacity="0.5"/>
<ellipse cx="796.4" cy="712.2" rx="4.3" ry="5.0" fill="url(#holeG)"/>
</g>
<g opacity="1.00">
<ellipse cx="848.7" cy="715.3" rx="12.1" ry="12.1" fill="#5a50f0" opacity="0.5" filter="url(#blur1)"/>
<ellipse cx="850.0" cy="714.0" rx="11.0" ry="11.2" fill="url(#ringG)" stroke="#3a66e0" stroke-width="0.8" stroke-opacity="0.5"/>
<ellipse cx="849.4" cy="714.2" rx="4.8" ry="5.0" fill="url(#holeG)"/>
</g>
<g opacity="1.00">
<ellipse cx="883.8" cy="713.2" rx="8.3" ry="10.9" fill="#5a50f0" opacity="0.5" filter="url(#blur1)"/>
<ellipse cx="885.0" cy="712.0" rx="7.5" ry="10.1" fill="url(#ringG)" stroke="#3a66e0" stroke-width="0.8" stroke-opacity="0.5"/>
<ellipse cx="884.5" cy="712.2" rx="3.3" ry="4.5" fill="url(#holeG)"/>
</g>
<g opacity="1.00">
<ellipse cx="822.7" cy="746.3" rx="12.2" ry="12.1" fill="#5a50f0" opacity="0.5" filter="url(#blur1)"/>
<ellipse cx="824.0" cy="745.0" rx="11.1" ry="11.2" fill="url(#ringG)" stroke="#3a66e0" stroke-width="0.8" stroke-opacity="0.5"/>
<ellipse cx="823.4" cy="745.2" rx="4.9" ry="5.0" fill="url(#holeG)"/>
</g>
<g opacity="1.00">
<ellipse cx="866.7" cy="750.3" rx="11.1" ry="12.1" fill="#5a50f0" opacity="0.5" filter="url(#blur1)"/>
<ellipse cx="868.0" cy="749.0" rx="10.1" ry="11.2" fill="url(#ringG)" stroke="#3a66e0" stroke-width="0.8" stroke-opacity="0.5"/>
<ellipse cx="867.4" cy="749.2" rx="4.4" ry="5.0" fill="url(#holeG)"/>
</g>
<g opacity="1.00">
<ellipse cx="892.9" cy="744.1" rx="6.5" ry="9.7" fill="#5a50f0" opacity="0.5" filter="url(#blur1)"/>
<ellipse cx="894.0" cy="743.0" rx="6.0" ry="9.0" fill="url(#ringG)" stroke="#3a66e0" stroke-width="0.8" stroke-opacity="0.5"/>
<ellipse cx="893.6" cy="743.2" rx="2.6" ry="4.0" fill="url(#holeG)"/>
<path d="M890.7,737.6 q-1.5,5.4 0.3,10.3" stroke="#c040ec" stroke-width="1.4" fill="none" opacity="0.7"/>
</g>
<g opacity="1.00">
<ellipse cx="781.1" cy="742.9" rx="6.3" ry="8.5" fill="#5a50f0" opacity="0.5" filter="url(#blur1)"/>
<ellipse cx="782.0" cy="742.0" rx="5.7" ry="7.8" fill="url(#ringG)" stroke="#3a66e0" stroke-width="0.8" stroke-opacity="0.5"/>
<ellipse cx="781.6" cy="742.2" rx="2.5" ry="3.5" fill="url(#holeG)"/>
</g>
<g opacity="0.69">
<ellipse cx="884.3" cy="510.4" rx="8.7" ry="8.5" fill="#5a50f0" opacity="0.5" filter="url(#blur1)"/>
<ellipse cx="885.2" cy="509.4" rx="7.9" ry="7.9" fill="url(#ringG)" stroke="#3a66e0" stroke-width="0.8" stroke-opacity="0.5"/>
<ellipse cx="884.8" cy="509.6" rx="3.5" ry="3.6" fill="url(#holeG)"/>
</g>
<g opacity="1.00">
<ellipse cx="833.3" cy="690.9" rx="15.2" ry="14.9" fill="#5a50f0" opacity="0.5" filter="url(#blur1)"/>
<ellipse cx="835.0" cy="689.2" rx="13.8" ry="13.8" fill="url(#ringG)" stroke="#3a66e0" stroke-width="0.8" stroke-opacity="0.5"/>
<ellipse cx="834.3" cy="689.5" rx="6.1" ry="6.2" fill="url(#holeG)"/>
</g>
<g opacity="1.00">
<ellipse cx="799.1" cy="760.2" rx="13.4" ry="14.9" fill="#5a50f0" opacity="0.5" filter="url(#blur1)"/>
<ellipse cx="800.7" cy="758.6" rx="12.2" ry="13.8" fill="url(#ringG)" stroke="#3a66e0" stroke-width="0.8" stroke-opacity="0.5"/>
<ellipse cx="800.0" cy="758.9" rx="5.4" ry="6.2" fill="url(#holeG)"/>
</g>
</g>
</g>
<g fill="#000">
  <rect x="36" y="160" width="2" height="717"/>
  <path d="M37,153 L41,167 L33,167 Z M37,884 L41,871 L33,871 Z"/>
  <rect x="401" y="286" width="2" height="594"/>
  <path d="M402,279 L406,293 L398,293 Z M402,887 L406,874 L398,874 Z"/>
  <rect x="734" y="402" width="2" height="482"/>
  <path d="M735,395 L739,409 L731,409 Z M735,891 L739,877 L731,877 Z"/>
<rect x="221.0" y="302.8" width="87.0" height="2.4"/>
<path d="M213.0,304.0 L227.5,299.8 L226.0,304.0 L227.5,308.2 Z"/>
<path d="M316.0,304.0 L301.5,299.8 L303.0,304.0 L301.5,308.2 Z"/>
<rect x="119.0" y="529.8" width="160.0" height="2.4"/>
<path d="M111.0,531.0 L125.5,526.8 L124.0,531.0 L125.5,535.2 Z"/>
<path d="M287.0,531.0 L272.5,526.8 L274.0,531.0 L272.5,535.2 Z"/>
<rect x="102.0" y="680.8" width="183.0" height="2.4"/>
<path d="M94.0,682.0 L108.5,677.8 L107.0,682.0 L108.5,686.2 Z"/>
<path d="M293.0,682.0 L278.5,677.8 L280.0,682.0 L278.5,686.2 Z"/>
<rect x="556.0" y="403.8" width="70.0" height="2.4"/>
<path d="M548.0,405.0 L562.5,400.8 L561.0,405.0 L562.5,409.2 Z"/>
<path d="M634.0,405.0 L619.5,400.8 L621.0,405.0 L619.5,409.2 Z"/>
<rect x="475.0" y="575.8" width="127.0" height="2.4"/>
<path d="M467.0,577.0 L481.5,572.8 L480.0,577.0 L481.5,581.2 Z"/>
<path d="M610.0,577.0 L595.5,572.8 L597.0,577.0 L595.5,581.2 Z"/>
<rect x="453.0" y="712.8" width="159.0" height="2.4"/>
<path d="M445.0,714.0 L459.5,709.8 L458.0,714.0 L459.5,718.2 Z"/>
<path d="M620.0,714.0 L605.5,709.8 L607.0,714.0 L605.5,718.2 Z"/>
<rect x="860.0" y="496.8" width="55.0" height="2.4"/>
<path d="M852.0,498.0 L866.5,493.8 L865.0,498.0 L866.5,502.2 Z"/>
<path d="M923.0,498.0 L908.5,493.8 L910.0,498.0 L908.5,502.2 Z"/>
<rect x="794.0" y="636.8" width="104.0" height="2.4"/>
<path d="M786.0,638.0 L800.5,633.8 L799.0,638.0 L800.5,642.2 Z"/>
<path d="M906.0,638.0 L891.5,633.8 L893.0,638.0 L891.5,642.2 Z"/>
<rect x="775.0" y="745.8" width="125.0" height="2.4"/>
<path d="M767.0,747.0 L781.5,742.8 L780.0,747.0 L781.5,751.2 Z"/>
<path d="M908.0,747.0 L893.5,742.8 L895.0,747.0 L893.5,751.2 Z"/>
</g>
<g font-weight="bold" stroke="#0c0c0c" stroke-width="0.25">
  <text x="114" y="58.5" font-size="24.4" textLength="149" lengthAdjust="spacingAndGlyphs">Weight:402g</text>
  <text x="489" y="162.6" font-size="24.4" textLength="149" lengthAdjust="spacingAndGlyphs">Weight:244g</text>
  <text x="806" y="314.4" font-size="24.4" textLength="149" lengthAdjust="spacingAndGlyphs">Weight:147g</text>
</g>
<g>
<text x="194.0" y="348.0" font-size="25.58"><tspan font-weight="bold">2cm</tspan><tspan stroke="#0c0c0c" stroke-width="0.55">/0.78in</tspan></text>
<text x="126.0" y="572.0" font-size="25.86"><tspan font-weight="bold">3.9cm</tspan><tspan stroke="#0c0c0c" stroke-width="0.55">/1.54in</tspan></text>
<text x="116.0" y="735.0" font-size="25.52"><tspan font-weight="bold">5.3cm</tspan><tspan stroke="#0c0c0c" stroke-width="0.55">/2.09in</tspan></text>
<text x="525.0" y="441.0" font-size="21.24"><tspan font-weight="bold">1.6cm</tspan><tspan stroke="#0c0c0c" stroke-width="0.55">/0.63in</tspan></text>
<text x="461.0" y="612.0" font-size="22.26"><tspan font-weight="bold">3.1cm</tspan><tspan stroke="#0c0c0c" stroke-width="0.55">/1.22in</tspan></text>
<text x="461.0" y="763.0" font-size="21.41"><tspan font-weight="bold">7.2cm</tspan><tspan stroke="#0c0c0c" stroke-width="0.55">/2.83in</tspan></text>
<text x="780.0" y="680.0" font-size="22.95"><tspan font-weight="bold">2.6cm</tspan><tspan stroke="#0c0c0c" stroke-width="0.55">/1.02in</tspan></text>
</g>
<g stroke="#0c0c0c" stroke-width="0.6">
  <text x="834" y="528" font-size="17" textLength="102" lengthAdjust="spacingAndGlyphs">1.2cm/0.47in</text>
  <text x="792" y="792" font-size="17" textLength="102" lengthAdjust="spacingAndGlyphs">7.2cm/2.83in</text>
  <text transform="translate(8,471) rotate(90)" x="0" y="0" font-size="27.5" textLength="145" lengthAdjust="spacingAndGlyphs">21cm/8.06in</text>
  <text transform="translate(378,537) rotate(90)" x="0" y="0" font-size="23" textLength="136" lengthAdjust="spacingAndGlyphs">17.9cm/7.09in</text>
  <text transform="translate(715,604) rotate(90)" x="0" y="0" font-size="19" textLength="112" lengthAdjust="spacingAndGlyphs">15.3cm/6.02in</text>
</g>
</svg>
</body></html>
